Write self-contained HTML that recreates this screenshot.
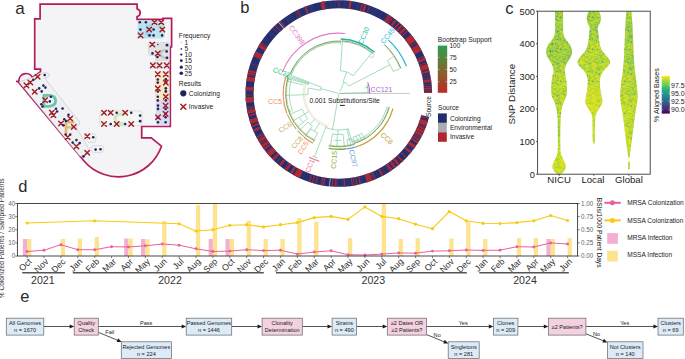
<!DOCTYPE html>
<html><head><meta charset="utf-8"><title>Figure</title>
<style>
html,body{margin:0;padding:0;background:#fff;}
body{width:685px;height:359px;overflow:hidden;}
svg{display:block;font-family:"Liberation Sans", sans-serif;}
</style></head><body>
<svg width="685" height="359" viewBox="0 0 685 359">
<rect width="685" height="359" fill="#fff"/>
<text x="15.3" y="13.8" font-size="17" fill="#2a2a2a" text-anchor="start">a</text>
<path d="M40.1 4.1 L137.1 4.1 L137.1 8.8 C141.2 9.8 141.2 15.6 137.1 16.6 L137.1 19.4 L163 19.4 L163 18.4 L171.6 18.4 L171.6 47 L170.3 47 L170.3 126.5 L141.7 126.5 L141.7 137.8 L151.3 137.8 L161.5 146.2 A45.5 45.5 0 0 1 84 161 L18.9 82.6 L16.2 81.3 L18.9 81.6 A7.2 7.2 0 0 1 32.4 77.4 L40.5 71.6 L40.5 69.1 L34.7 69.1 L34.7 18.8 L40.1 18.8 Z" fill="#f4f4f7" stroke="#b41a5e" stroke-width="1.7" stroke-linejoin="miter"/>
<rect x="137.6" y="20.3" width="27.1" height="18.3" fill="#bfe2ec" stroke="none" stroke-width="0" rx="3"/>
<rect x="145.4" y="24.8" width="6.4" height="11.4" fill="#a6d5ec" stroke="none" stroke-width="0" rx="1"/>
<path d="M150.4 42.5 L167.6 42.5 Q169.5 42.5 169.5 44.4 L169.5 60.5 L155.5 60.5 L155.5 55.5 L150.4 55.5 Q148.4 55.5 148.4 53.5 L148.4 44.5 Q148.4 42.5 150.4 42.5Z" fill="#e3e3e6" stroke="#c9c9cc" stroke-width="0.5"/>
<path d="M153 62.3 L169.3 62.3 L169.3 68 L153 68 Q150.6 68 150.6 65.2 Q150.6 62.3 153 62.3Z" fill="#ececef" stroke="#cfcfd2" stroke-width="0.5"/>
<path d="M167.5 50.2 Q161 49.5 160.5 54 Q161 58.3 167.5 57.8" fill="none" stroke="#c6c6c8" stroke-width="2.2"/>
<rect x="155.6" y="72.4" width="13.7" height="29.4" fill="#fbe7c6" stroke="#e8d8c0" stroke-width="0.4" rx="2"/>
<rect x="156.3" y="100.6" width="13.2" height="24.2" fill="#d9daf0" stroke="#c9c9dc" stroke-width="0.4" rx="2"/>
<rect x="99.8" y="110.9" width="42.2" height="14.8" fill="#f5f6f1" stroke="#c4c4c4" stroke-width="0.5" rx="3"/>
<path d="M124.8 113.9 Q115.2 113.4 115.2 118.7 Q115.2 124 124.8 123.6" fill="none" stroke="#cfe8c2" stroke-width="3.2"/>
<path d="M85.4 134 L94.5 133.8 Q96.4 134 96.2 136.5 L95.8 140.8 Q95.6 142.6 93.5 142.5 L89.5 142.3 Q88.3 142.2 87.6 141.2 L84.4 136.6 Q83.9 134.4 85.4 134Z" fill="#f2f2f4" stroke="#c4c4c6" stroke-width="0.5"/>
<rect x="91.2" y="145.6" width="12.4" height="6.8" fill="#f2f2f4" stroke="#c4c4c6" stroke-width="0.5" rx="2.5"/>
<path d="M19 82 L33 77.2 L39.6 72.9 L47 72.9 Q49.6 73.2 49.2 75.4 Q48.8 77.3 46.6 77.5 L44.6 77.8 L72 112.6 L72.6 113.6 L79.2 121 Q80.4 123 79 124.6 L75.9 127 L89.4 149.8 L87.6 153.4 L84.4 156.6 L79.8 156 Z" fill="#eef0f3" stroke="#b9bcc1" stroke-width="0.55" stroke-linejoin="round"/>
<path d="M42.7 94 L49 94 Q57 94.2 57 100.85 Q57 107.5 49 107.7 L42.7 107.7 Z M45.4 96.7 L45.4 105 L48.8 105 Q54.2 104.8 54.2 100.85 Q54.2 96.9 48.8 96.7 Z" fill="#6cc6a6" fill-rule="evenodd"/>
<path d="M64.6 121 L74.4 121 L74.4 123.4 L67.4 123.4 L67.4 126.2 L73 126.2 L73 128.4 L67.4 128.4 L67.4 133.8 L64.6 133.8 Z" fill="#d9bd78"/>
<circle cx="139.8" cy="22.2" r="1.3" fill="#1d2663"/>
<circle cx="145.9" cy="22.2" r="1.3" fill="#1d2663"/>
<path d="M152.2 19.9L156.8 24.5M152.2 24.5L156.8 19.9" stroke="#a11d23" stroke-width="1.4" stroke-linecap="round"/>
<path d="M158.9 19.9L163.5 24.5M158.9 24.5L163.5 19.9" stroke="#a11d23" stroke-width="1.4" stroke-linecap="round"/>
<circle cx="140.4" cy="29.5" r="1.3" fill="#1d2663"/>
<path d="M146.9 27.2L151.5 31.8M146.9 31.8L151.5 27.2" stroke="#a11d23" stroke-width="1.4" stroke-linecap="round"/>
<circle cx="153.6" cy="29.5" r="1.3" fill="#1d2663"/>
<path d="M160 27.2L164.6 31.8M160 31.8L164.6 27.2" stroke="#a11d23" stroke-width="1.4" stroke-linecap="round"/>
<path d="M138.3 33.1L142.9 37.7M138.3 37.7L142.9 33.1" stroke="#a11d23" stroke-width="1.4" stroke-linecap="round"/>
<circle cx="149.5" cy="35.4" r="1.3" fill="#1d2663"/>
<circle cx="153.6" cy="35.4" r="1.3" fill="#1d2663"/>
<circle cx="162.1" cy="35.4" r="1.3" fill="#1d2663"/>
<path d="M150 42.2L154.6 46.8M150 46.8L154.6 42.2" stroke="#a11d23" stroke-width="1.4" stroke-linecap="round"/>
<circle cx="157.8" cy="44.5" r="0.8" fill="#1d2663"/>
<circle cx="167" cy="45.2" r="1.4" fill="#1d2663"/>
<circle cx="152.5" cy="53.4" r="1.3" fill="#1d2663"/>
<path d="M155.5 51.1L160.1 55.7M155.5 55.7L160.1 51.1" stroke="#a11d23" stroke-width="1.4" stroke-linecap="round"/>
<circle cx="166.7" cy="51.5" r="1.3" fill="#1d2663"/>
<circle cx="157.5" cy="57" r="1.3" fill="#1d2663"/>
<circle cx="167" cy="57.8" r="1.4" fill="#1d2663"/>
<path d="M150.5 63.1L155.1 67.7M150.5 67.7L155.1 63.1" stroke="#a11d23" stroke-width="1.4" stroke-linecap="round"/>
<path d="M157.2 63.1L161.8 67.7M157.2 67.7L161.8 63.1" stroke="#a11d23" stroke-width="1.4" stroke-linecap="round"/>
<path d="M164.4 63.1L169 67.7M164.4 67.7L169 63.1" stroke="#a11d23" stroke-width="1.4" stroke-linecap="round"/>
<path d="M155.5 71.8L160.1 76.4M155.5 76.4L160.1 71.8" stroke="#a11d23" stroke-width="1.4" stroke-linecap="round"/>
<path d="M163.5 71.8L168.1 76.4M163.5 76.4L168.1 71.8" stroke="#a11d23" stroke-width="1.4" stroke-linecap="round"/>
<circle cx="157.8" cy="79.5" r="1.3" fill="#1d2663"/>
<circle cx="165.8" cy="79.5" r="1.4" fill="#1d2663"/>
<circle cx="157.8" cy="82.6" r="1.3" fill="#1d2663"/>
<circle cx="165.8" cy="82.6" r="1.4" fill="#1d2663"/>
<path d="M163.5 80.3L168.1 84.9M163.5 84.9L168.1 80.3" stroke="#a11d23" stroke-width="1.4" stroke-linecap="round"/>
<path d="M155.5 86.1L160.1 90.7M155.5 90.7L160.1 86.1" stroke="#a11d23" stroke-width="1.4" stroke-linecap="round"/>
<circle cx="165.8" cy="88.4" r="1.4" fill="#1d2663"/>
<circle cx="157.8" cy="91.5" r="1.3" fill="#1d2663"/>
<circle cx="165.8" cy="91.5" r="1.4" fill="#1d2663"/>
<circle cx="157.8" cy="96.8" r="1.3" fill="#1d2663"/>
<path d="M163.5 94.5L168.1 99.1M163.5 99.1L168.1 94.5" stroke="#a11d23" stroke-width="1.4" stroke-linecap="round"/>
<circle cx="157.8" cy="100.4" r="1.3" fill="#1d2663"/>
<circle cx="165.8" cy="100.4" r="1.3" fill="#1d2663"/>
<circle cx="158" cy="105.6" r="1.3" fill="#1d2663"/>
<path d="M163.3 103.3L167.9 107.9M163.3 107.9L167.9 103.3" stroke="#a11d23" stroke-width="1.4" stroke-linecap="round"/>
<circle cx="158" cy="108.9" r="1.3" fill="#1d2663"/>
<circle cx="165.6" cy="108.9" r="1.3" fill="#1d2663"/>
<circle cx="165.6" cy="113.9" r="1.4" fill="#1d2663"/>
<path d="M163.3 111.6L167.9 116.2M163.3 116.2L167.9 111.6" stroke="#a11d23" stroke-width="1.4" stroke-linecap="round"/>
<circle cx="158" cy="117.3" r="1.3" fill="#1d2663"/>
<path d="M155.7 115L160.3 119.6M155.7 119.6L160.3 115" stroke="#a11d23" stroke-width="1.4" stroke-linecap="round"/>
<circle cx="165.6" cy="117.3" r="1.3" fill="#1d2663"/>
<circle cx="158" cy="122.3" r="1.3" fill="#1d2663"/>
<circle cx="165.6" cy="122.3" r="1.3" fill="#1d2663"/>
<path d="M101.7 110.4L106.3 115M101.7 115L106.3 110.4" stroke="#a11d23" stroke-width="1.4" stroke-linecap="round"/>
<path d="M108.4 110.4L113 115M108.4 115L113 110.4" stroke="#a11d23" stroke-width="1.4" stroke-linecap="round"/>
<circle cx="116.7" cy="112.7" r="1.3" fill="#1d2663"/>
<path d="M122.9 110.4L127.5 115M122.9 115L127.5 110.4" stroke="#a11d23" stroke-width="1.4" stroke-linecap="round"/>
<circle cx="131.2" cy="112.7" r="1.3" fill="#1d2663"/>
<circle cx="140.1" cy="115.6" r="1.3" fill="#1d2663"/>
<circle cx="140.1" cy="121.2" r="1.4" fill="#1d2663"/>
<path d="M101.7 121.7L106.3 126.3M101.7 126.3L106.3 121.7" stroke="#a11d23" stroke-width="1.4" stroke-linecap="round"/>
<circle cx="110.7" cy="124" r="1.3" fill="#1d2663"/>
<path d="M114.4 121.7L119 126.3M114.4 126.3L119 121.7" stroke="#a11d23" stroke-width="1.4" stroke-linecap="round"/>
<circle cx="125.2" cy="124" r="1.3" fill="#1d2663"/>
<path d="M128.9 121.7L133.5 126.3M128.9 126.3L133.5 121.7" stroke="#a11d23" stroke-width="1.4" stroke-linecap="round"/>
<path d="M85 134L89.6 138.6M85 138.6L89.6 134" stroke="#a11d23" stroke-width="1.4" stroke-linecap="round"/>
<circle cx="93.2" cy="137.2" r="1.3" fill="#1d2663"/>
<circle cx="95.6" cy="149.6" r="1.3" fill="#1d2663"/>
<circle cx="100.5" cy="149.3" r="1.3" fill="#1d2663"/>
<path d="M35.3 74.4L39.9 79M35.3 79L39.9 74.4" stroke="#a11d23" stroke-width="1.4" stroke-linecap="round"/>
<circle cx="44.7" cy="75" r="1.3" fill="#1d2663"/>
<circle cx="33.4" cy="79.7" r="1.3" fill="#1d2663"/>
<path d="M28.1 80.2L32.7 84.8M28.1 84.8L32.7 80.2" stroke="#a11d23" stroke-width="1.4" stroke-linecap="round"/>
<path d="M24.1 83.1L28.7 87.7M24.1 87.7L28.7 83.1" stroke="#a11d23" stroke-width="1.4" stroke-linecap="round"/>
<circle cx="39.2" cy="88.4" r="1.3" fill="#1d2663"/>
<circle cx="43.4" cy="85.6" r="1.3" fill="#1d2663"/>
<circle cx="45.4" cy="87.6" r="1.3" fill="#1d2663"/>
<circle cx="41.7" cy="91.4" r="1.3" fill="#1d2663"/>
<path d="M32.4 89.4L37 94M32.4 94L37 89.4" stroke="#a11d23" stroke-width="1.4" stroke-linecap="round"/>
<circle cx="50.9" cy="96.8" r="1.3" fill="#1d2663"/>
<path d="M42.8 97.8L47.4 102.4M42.8 102.4L47.4 97.8" stroke="#a11d23" stroke-width="1.4" stroke-linecap="round"/>
<circle cx="49.8" cy="101.4" r="1.3" fill="#1d2663"/>
<circle cx="41.4" cy="104.3" r="1.3" fill="#1d2663"/>
<circle cx="42.6" cy="106.5" r="1.3" fill="#1d2663"/>
<circle cx="56" cy="108.8" r="1.3" fill="#1d2663"/>
<circle cx="62.6" cy="108.5" r="1.3" fill="#1d2663"/>
<circle cx="57.1" cy="111.5" r="1.3" fill="#1d2663"/>
<path d="M49.5 110.3L54.1 114.9M49.5 114.9L54.1 110.3" stroke="#a11d23" stroke-width="1.4" stroke-linecap="round"/>
<path d="M51.1 112.9L55.7 117.5M51.1 117.5L55.7 112.9" stroke="#a11d23" stroke-width="1.4" stroke-linecap="round"/>
<circle cx="68.5" cy="114.8" r="1.3" fill="#1d2663"/>
<path d="M67.9 116.2L72.5 120.8M67.9 120.8L72.5 116.2" stroke="#a11d23" stroke-width="1.4" stroke-linecap="round"/>
<circle cx="64.3" cy="119.3" r="1.3" fill="#1d2663"/>
<circle cx="66" cy="121" r="1.3" fill="#1d2663"/>
<path d="M58.7 121.2L63.3 125.8M58.7 125.8L63.3 121.2" stroke="#a11d23" stroke-width="1.4" stroke-linecap="round"/>
<circle cx="63.5" cy="125.2" r="1.3" fill="#1d2663"/>
<path d="M71.5 124.6L76.1 129.2M71.5 129.2L76.1 124.6" stroke="#a11d23" stroke-width="1.4" stroke-linecap="round"/>
<circle cx="65.7" cy="134.6" r="1.3" fill="#1d2663"/>
<circle cx="70.2" cy="134.6" r="1.3" fill="#1d2663"/>
<path d="M65.4 134.8L70 139.4M65.4 139.4L70 134.8" stroke="#a11d23" stroke-width="1.4" stroke-linecap="round"/>
<circle cx="72.7" cy="142.6" r="1.3" fill="#1d2663"/>
<circle cx="76.4" cy="140.1" r="1.3" fill="#1d2663"/>
<circle cx="79.7" cy="143.1" r="1.3" fill="#1d2663"/>
<path d="M74.1 144.1L78.7 148.7M74.1 148.7L78.7 144.1" stroke="#a11d23" stroke-width="1.4" stroke-linecap="round"/>
<path d="M84.9 150.4L89.5 155M84.9 155L89.5 150.4" stroke="#a11d23" stroke-width="1.4" stroke-linecap="round"/>
<circle cx="83.5" cy="156.4" r="1.3" fill="#1d2663"/>
<text x="178.8" y="38" font-size="6.7" fill="#222" text-anchor="start">Frequency</text>
<circle cx="181.3" cy="42.6" r="0.4" fill="#1d2663"/>
<text x="184.5" y="44.9" font-size="6.7" fill="#222" text-anchor="start">1</text>
<circle cx="181.3" cy="48.9" r="0.8" fill="#1d2663"/>
<text x="184.5" y="51.2" font-size="6.7" fill="#222" text-anchor="start">5</text>
<circle cx="181.3" cy="54.6" r="1.15" fill="#1d2663"/>
<text x="184.5" y="56.9" font-size="6.7" fill="#222" text-anchor="start">10</text>
<circle cx="181.3" cy="60.7" r="1.4" fill="#1d2663"/>
<text x="184.5" y="63" font-size="6.7" fill="#222" text-anchor="start">15</text>
<circle cx="181.3" cy="67.2" r="1.6" fill="#1d2663"/>
<text x="184.5" y="69.5" font-size="6.7" fill="#222" text-anchor="start">20</text>
<circle cx="181.3" cy="73.2" r="1.8" fill="#1d2663"/>
<text x="184.5" y="75.5" font-size="6.7" fill="#222" text-anchor="start">25</text>
<text x="178.8" y="85.6" font-size="6.7" fill="#222" text-anchor="start">Results</text>
<circle cx="183.3" cy="93.3" r="3.1" fill="#1d2663"/>
<text x="188.8" y="95.7" font-size="6.7" fill="#222" text-anchor="start">Colonizing</text>
<path d="M180.8 104.2L185.8 109.2M180.8 109.2L185.8 104.2" stroke="#a11d23" stroke-width="1.5" stroke-linecap="round"/>
<text x="188.8" y="109.1" font-size="6.7" fill="#222" text-anchor="start">Invasive</text>
<text x="240.3" y="13.4" font-size="16.5" fill="#2a2a2a" text-anchor="start">b</text>
<path d="M429.09 117.02A93.3 93.3 0 1 1 432.1 92.85L424 92.91A85.2 85.2 0 1 0 421.25 114.98Z" fill="#232c6c"/>
<path d="M428.88 117.81A93.3 93.3 0 0 1 428.6 118.83L420.8 116.63A85.2 85.2 0 0 0 421.06 115.69Z" fill="#b0262e"/>
<path d="M427.93 121.09A93.3 93.3 0 0 1 426.22 126.1L418.63 123.27A85.2 85.2 0 0 0 420.19 118.69Z" fill="#b0262e"/>
<path d="M425.9 126.94A93.3 93.3 0 0 1 425.52 127.92L417.99 124.93A85.2 85.2 0 0 0 418.34 124.03Z" fill="#b0262e"/>
<path d="M425.31 128.45A93.3 93.3 0 0 1 424.71 129.88L417.26 126.72A85.2 85.2 0 0 0 417.8 125.42Z" fill="#b0262e"/>
<path d="M424.43 130.55A93.3 93.3 0 0 1 423.05 133.59L415.73 130.11A85.2 85.2 0 0 0 416.99 127.34Z" fill="#b0262e"/>
<path d="M422.87 133.96A93.3 93.3 0 0 1 421.67 136.36L414.48 132.64A85.2 85.2 0 0 0 415.57 130.45Z" fill="#b0262e"/>
<path d="M421.48 136.73A93.3 93.3 0 0 1 421.22 137.23L414.06 133.43A85.2 85.2 0 0 0 414.3 132.97Z" fill="#b0262e"/>
<path d="M420.87 137.88A93.3 93.3 0 0 1 420.36 138.8L413.28 134.87A85.2 85.2 0 0 0 413.75 134.02Z" fill="#b0262e"/>
<path d="M419.92 139.58A93.3 93.3 0 0 1 419.15 140.92L412.17 136.81A85.2 85.2 0 0 0 412.88 135.58Z" fill="#b0262e"/>
<path d="M418.52 141.97A93.3 93.3 0 0 1 417.44 143.7L410.62 139.34A85.2 85.2 0 0 0 411.6 137.76Z" fill="#b0262e"/>
<path d="M416.06 145.81A93.3 93.3 0 0 1 414.14 148.54L407.6 143.76A85.2 85.2 0 0 0 409.35 141.27Z" fill="#b0262e"/>
<path d="M411.92 151.45A93.3 93.3 0 0 1 410.32 153.41L404.11 148.21A85.2 85.2 0 0 0 405.57 146.42Z" fill="#b0262e"/>
<path d="M406.81 157.37A93.3 93.3 0 0 1 406.2 158.02L400.35 152.42A85.2 85.2 0 0 0 400.91 151.82Z" fill="#b0262e"/>
<path d="M403.49 160.73A93.3 93.3 0 0 1 402.25 161.9L396.74 155.96A85.2 85.2 0 0 0 397.88 154.89Z" fill="#b0262e"/>
<path d="M400.01 163.91A93.3 93.3 0 0 1 397.83 165.75L392.71 159.48A85.2 85.2 0 0 0 394.7 157.8Z" fill="#b0262e"/>
<path d="M396.37 166.92A93.3 93.3 0 0 1 394.88 168.06L390.02 161.59A85.2 85.2 0 0 0 391.37 160.55Z" fill="#b0262e"/>
<path d="M394.56 168.31A93.3 93.3 0 0 1 393.97 168.74L389.18 162.21A85.2 85.2 0 0 0 389.72 161.81Z" fill="#b0262e"/>
<path d="M392.45 169.83A93.3 93.3 0 0 1 390.91 170.89L386.38 164.18A85.2 85.2 0 0 0 387.79 163.21Z" fill="#b0262e"/>
<path d="M390.43 171.21A93.3 93.3 0 0 1 389.68 171.7L385.27 164.91A85.2 85.2 0 0 0 385.95 164.46Z" fill="#b0262e"/>
<path d="M383.6 175.34A93.3 93.3 0 0 1 381.95 176.22L378.21 169.04A85.2 85.2 0 0 0 379.72 168.23Z" fill="#b0262e"/>
<path d="M375.55 179.26A93.3 93.3 0 0 1 374.73 179.6L371.61 172.13A85.2 85.2 0 0 0 372.36 171.81Z" fill="#b0262e"/>
<path d="M373.75 180.01A93.3 93.3 0 0 1 373.07 180.28L370.1 172.74A85.2 85.2 0 0 0 370.72 172.5Z" fill="#b0262e"/>
<path d="M372.24 180.6A93.3 93.3 0 0 1 367.09 182.41L364.63 174.69A85.2 85.2 0 0 0 369.33 173.04Z" fill="#b0262e"/>
<path d="M361.06 184.11A93.3 93.3 0 0 1 359.87 184.39L358.04 176.5A85.2 85.2 0 0 0 359.12 176.24Z" fill="#b0262e"/>
<path d="M357.72 184.86A93.3 93.3 0 0 1 356.84 185.04L355.28 177.09A85.2 85.2 0 0 0 356.08 176.93Z" fill="#b0262e"/>
<path d="M355 185.38A93.3 93.3 0 0 1 354.12 185.53L352.79 177.54A85.2 85.2 0 0 0 353.59 177.41Z" fill="#b0262e"/>
<path d="M353.07 185.7A93.3 93.3 0 0 1 352.03 185.86L350.88 177.84A85.2 85.2 0 0 0 351.83 177.7Z" fill="#b0262e"/>
<path d="M345.31 186.57A93.3 93.3 0 0 1 344.25 186.64L343.78 178.55A85.2 85.2 0 0 0 344.74 178.49Z" fill="#b0262e"/>
<path d="M336.52 186.77A93.3 93.3 0 0 1 334.81 186.71L335.16 178.62A85.2 85.2 0 0 0 336.72 178.67Z" fill="#b0262e"/>
<path d="M332.78 186.61A93.3 93.3 0 0 1 331.56 186.52L332.19 178.44A85.2 85.2 0 0 0 333.3 178.52Z" fill="#b0262e"/>
<path d="M329.86 186.37A93.3 93.3 0 0 1 329.13 186.3L329.97 178.24A85.2 85.2 0 0 0 330.63 178.31Z" fill="#c9ccd2"/>
<path d="M324.04 185.63A93.3 93.3 0 0 1 322.68 185.4L324.08 177.42A85.2 85.2 0 0 0 325.32 177.63Z" fill="#b0262e"/>
<path d="M321.96 185.27A93.3 93.3 0 0 1 320.92 185.07L322.47 177.12A85.2 85.2 0 0 0 323.42 177.3Z" fill="#b0262e"/>
<path d="M316.07 183.99A93.3 93.3 0 0 1 314.89 183.68L316.96 175.85A85.2 85.2 0 0 0 318.04 176.13Z" fill="#b0262e"/>
<path d="M312.77 183.1A93.3 93.3 0 0 1 311.76 182.79L314.1 175.04A85.2 85.2 0 0 0 315.03 175.32Z" fill="#b0262e"/>
<path d="M309.66 182.13A93.3 93.3 0 0 1 308.81 181.85L311.41 174.18A85.2 85.2 0 0 0 312.19 174.44Z" fill="#b0262e"/>
<path d="M299.67 178.2A93.3 93.3 0 0 1 293.78 175.22L297.69 168.13A85.2 85.2 0 0 0 303.06 170.84Z" fill="#b0262e"/>
<path d="M292.15 174.3A93.3 93.3 0 0 1 290.12 173.09L294.35 166.18A85.2 85.2 0 0 0 296.2 167.29Z" fill="#b0262e"/>
<path d="M286.9 171.03A93.3 93.3 0 0 1 284.95 169.69L289.63 163.08A85.2 85.2 0 0 0 291.4 164.3Z" fill="#b0262e"/>
<path d="M284.36 169.27A93.3 93.3 0 0 1 283.89 168.93L288.66 162.38A85.2 85.2 0 0 0 289.08 162.69Z" fill="#b0262e"/>
<path d="M280.46 166.31A93.3 93.3 0 0 1 278.77 164.92L283.98 158.72A85.2 85.2 0 0 0 285.53 159.99Z" fill="#b0262e"/>
<path d="M276.37 162.84A93.3 93.3 0 0 1 275.95 162.45L281.4 156.47A85.2 85.2 0 0 0 281.79 156.82Z" fill="#b0262e"/>
<path d="M273.75 160.39A93.3 93.3 0 0 1 271.97 158.6L277.77 152.95A85.2 85.2 0 0 0 279.4 154.58Z" fill="#b0262e"/>
<path d="M270.12 156.65A93.3 93.3 0 0 1 266.86 152.91L273.1 147.75A85.2 85.2 0 0 0 276.08 151.17Z" fill="#b0262e"/>
<path d="M266.6 152.59A93.3 93.3 0 0 1 265.93 151.77L272.26 146.71A85.2 85.2 0 0 0 272.87 147.46Z" fill="#b0262e"/>
<path d="M264.48 149.91A93.3 93.3 0 0 1 263.37 148.41L269.92 143.64A85.2 85.2 0 0 0 270.94 145.01Z" fill="#b0262e"/>
<path d="M262.84 147.68A93.3 93.3 0 0 1 261.04 145.06L267.79 140.59A85.2 85.2 0 0 0 269.44 142.98Z" fill="#b0262e"/>
<path d="M260.38 144.04A93.3 93.3 0 0 1 259.81 143.15L266.66 138.84A85.2 85.2 0 0 0 267.18 139.65Z" fill="#b0262e"/>
<path d="M259.42 142.53A93.3 93.3 0 0 1 257.88 139.94L264.9 135.91A85.2 85.2 0 0 0 266.31 138.27Z" fill="#b0262e"/>
<path d="M257.28 138.88A93.3 93.3 0 0 1 257 138.38L264.1 134.48A85.2 85.2 0 0 0 264.35 134.94Z" fill="#b0262e"/>
<path d="M256.65 137.73A93.3 93.3 0 0 1 256.08 136.65L263.26 132.91A85.2 85.2 0 0 0 263.78 133.89Z" fill="#b0262e"/>
<path d="M253.77 131.89A93.3 93.3 0 0 1 252.82 129.73L260.29 126.58A85.2 85.2 0 0 0 261.15 128.56Z" fill="#b0262e"/>
<path d="M251.81 127.24A93.3 93.3 0 0 1 251.21 125.64L258.81 122.85A85.2 85.2 0 0 0 259.37 124.31Z" fill="#b0262e"/>
<path d="M250.58 123.88A93.3 93.3 0 0 1 249.23 119.61L257 117.34A85.2 85.2 0 0 0 258.24 121.24Z" fill="#b0262e"/>
<path d="M248.31 116.23A93.3 93.3 0 0 1 247.98 114.88L255.87 113.03A85.2 85.2 0 0 0 256.17 114.26Z" fill="#b0262e"/>
<path d="M247.71 113.69A93.3 93.3 0 0 1 247.02 110.26L254.99 108.81A85.2 85.2 0 0 0 255.62 111.94Z" fill="#b0262e"/>
<path d="M246.75 108.74A93.3 93.3 0 0 1 246.61 107.85L254.61 106.61A85.2 85.2 0 0 0 254.74 107.42Z" fill="#b0262e"/>
<path d="M245.96 102.77A93.3 93.3 0 0 1 245.57 97.16L253.67 96.84A85.2 85.2 0 0 0 254.02 101.96Z" fill="#b0262e"/>
<path d="M245.52 95.62A93.3 93.3 0 0 1 245.51 95.05L253.61 94.91A85.2 85.2 0 0 0 253.62 95.43Z" fill="#b0262e"/>
<path d="M245.55 90.41A93.3 93.3 0 0 1 245.73 86.91L253.81 87.48A85.2 85.2 0 0 0 253.65 90.68Z" fill="#b0262e"/>
<path d="M246.34 81A93.3 93.3 0 0 1 247.08 76.42L255.04 77.9A85.2 85.2 0 0 0 254.37 82.08Z" fill="#b0262e"/>
<path d="M247.31 75.22A93.3 93.3 0 0 1 247.46 74.5L255.39 76.15A85.2 85.2 0 0 0 255.25 76.81Z" fill="#b0262e"/>
<path d="M247.54 74.1A93.3 93.3 0 0 1 247.87 72.59L255.77 74.41A85.2 85.2 0 0 0 255.46 75.79Z" fill="#b0262e"/>
<path d="M248 72.04A93.3 93.3 0 0 1 248.57 69.75L256.41 71.81A85.2 85.2 0 0 0 255.89 73.9Z" fill="#b0262e"/>
<path d="M250.43 63.59A93.3 93.3 0 0 1 250.61 63.05L258.27 65.69A85.2 85.2 0 0 0 258.1 66.18Z" fill="#b0262e"/>
<path d="M253.37 56A93.3 93.3 0 0 1 255.63 51.22L262.85 54.89A85.2 85.2 0 0 0 260.79 59.25Z" fill="#b0262e"/>
<path d="M258 46.85A93.3 93.3 0 0 1 259.81 43.85L266.66 48.16A85.2 85.2 0 0 0 265.01 50.9Z" fill="#b0262e"/>
<path d="M260.29 43.1A93.3 93.3 0 0 1 260.77 42.34L267.55 46.79A85.2 85.2 0 0 0 267.1 47.47Z" fill="#b0262e"/>
<path d="M272.71 27.64A93.3 93.3 0 0 1 273.12 27.24L278.82 32.99A85.2 85.2 0 0 0 278.45 33.36Z" fill="#b0262e"/>
<path d="M274.46 25.93A93.3 93.3 0 0 1 275.11 25.32L280.64 31.24A85.2 85.2 0 0 0 280.04 31.8Z" fill="#b0262e"/>
<path d="M278.21 22.55A93.3 93.3 0 0 1 278.89 21.98L284.09 28.19A85.2 85.2 0 0 0 283.47 28.71Z" fill="#c9ccd2"/>
<path d="M279.33 21.61A93.3 93.3 0 0 1 280.53 20.63L285.59 26.96A85.2 85.2 0 0 0 284.49 27.85Z" fill="#b0262e"/>
<path d="M294.85 11.2A93.3 93.3 0 0 1 295.36 10.93L299.13 18.1A85.2 85.2 0 0 0 298.67 18.34Z" fill="#b0262e"/>
<path d="M296.88 10.15A93.3 93.3 0 0 1 297.83 9.68L301.38 16.96A85.2 85.2 0 0 0 300.52 17.38Z" fill="#b0262e"/>
<path d="M304.3 6.81A93.3 93.3 0 0 1 306.05 6.14L308.89 13.72A85.2 85.2 0 0 0 307.3 14.34Z" fill="#b0262e"/>
<path d="M320.52 2.01A93.3 93.3 0 0 1 324.12 1.36L325.4 9.36A85.2 85.2 0 0 0 322.11 9.95Z" fill="#b0262e"/>
<path d="M337.99 0.2A93.3 93.3 0 0 1 338.56 0.2L338.58 8.3A85.2 85.2 0 0 0 338.06 8.3Z" fill="#b0262e"/>
<path d="M349.36 0.8A93.3 93.3 0 0 1 351.7 1.1L350.58 9.12A85.2 85.2 0 0 0 348.44 8.85Z" fill="#b0262e"/>
<path d="M362 3.13A93.3 93.3 0 0 1 363.5 3.53L361.35 11.34A85.2 85.2 0 0 0 359.99 10.98Z" fill="#b0262e"/>
<path d="M364.52 3.81A93.3 93.3 0 0 1 366.62 4.45L364.21 12.18A85.2 85.2 0 0 0 362.28 11.6Z" fill="#b0262e"/>
<path d="M369.48 5.39A93.3 93.3 0 0 1 370.02 5.58L367.31 13.21A85.2 85.2 0 0 0 366.82 13.04Z" fill="#b0262e"/>
<path d="M387.96 14.21A93.3 93.3 0 0 1 388.59 14.59L384.26 21.44A85.2 85.2 0 0 0 383.7 21.09Z" fill="#b0262e"/>
<path d="M389.07 14.9A93.3 93.3 0 0 1 391.58 16.56L387 23.24A85.2 85.2 0 0 0 384.7 21.72Z" fill="#b0262e"/>
<path d="M392.31 17.07A93.3 93.3 0 0 1 393.18 17.69L388.46 24.27A85.2 85.2 0 0 0 387.67 23.71Z" fill="#b0262e"/>
<path d="M395.08 19.09A93.3 93.3 0 0 1 396.94 20.53L391.9 26.87A85.2 85.2 0 0 0 390.19 25.55Z" fill="#b0262e"/>
<path d="M398.9 22.13A93.3 93.3 0 0 1 400.19 23.25L394.86 29.35A85.2 85.2 0 0 0 393.68 28.33Z" fill="#b0262e"/>
<path d="M401.35 24.27A93.3 93.3 0 0 1 402.96 25.77L397.39 31.65A85.2 85.2 0 0 0 395.92 30.28Z" fill="#b0262e"/>
<path d="M404.19 26.95A93.3 93.3 0 0 1 406.31 29.1L400.45 34.69A85.2 85.2 0 0 0 398.52 32.73Z" fill="#b0262e"/>
<path d="M407.37 30.23A93.3 93.3 0 0 1 408.19 31.13L402.17 36.55A85.2 85.2 0 0 0 401.41 35.72Z" fill="#b0262e"/>
<path d="M411 34.41A93.3 93.3 0 0 1 415.74 40.72L409.06 45.3A85.2 85.2 0 0 0 404.73 39.54Z" fill="#b0262e"/>
<path d="M416.33 41.6A93.3 93.3 0 0 1 416.65 42.07L409.89 46.54A85.2 85.2 0 0 0 409.6 46.1Z" fill="#b0262e"/>
<path d="M417.4 43.23A93.3 93.3 0 0 1 417.71 43.71L410.86 48.04A85.2 85.2 0 0 0 410.58 47.6Z" fill="#b0262e"/>
<path d="M418.18 44.47A93.3 93.3 0 0 1 421.75 50.78L414.54 54.49A85.2 85.2 0 0 0 411.29 48.73Z" fill="#b0262e"/>
<path d="M423.97 55.4A93.3 93.3 0 0 1 424.39 56.37L416.96 59.59A85.2 85.2 0 0 0 416.57 58.71Z" fill="#b0262e"/>
<path d="M424.75 57.19A93.3 93.3 0 0 1 425.87 59.99L418.31 62.9A85.2 85.2 0 0 0 417.28 60.35Z" fill="#b0262e"/>
<path d="M426.75 62.36A93.3 93.3 0 0 1 426.94 62.89L419.29 65.55A85.2 85.2 0 0 0 419.11 65.06Z" fill="#b0262e"/>
<path d="M427.23 63.74A93.3 93.3 0 0 1 428.86 69.12L421.04 71.23A85.2 85.2 0 0 0 419.55 66.32Z" fill="#b0262e"/>
<path d="M429.09 69.98A93.3 93.3 0 0 1 429.58 71.96L421.7 73.83A85.2 85.2 0 0 0 421.25 72.02Z" fill="#b0262e"/>
<path d="M430.23 74.9A93.3 93.3 0 0 1 430.34 75.46L422.39 77.02A85.2 85.2 0 0 0 422.29 76.51Z" fill="#b0262e"/>
<path d="M430.68 77.3A93.3 93.3 0 0 1 430.78 77.86L422.79 79.22A85.2 85.2 0 0 0 422.71 78.71Z" fill="#b0262e"/>
<path d="M430.98 79.07A93.3 93.3 0 0 1 431.35 81.73L423.32 82.75A85.2 85.2 0 0 0 422.97 80.32Z" fill="#b0262e"/>
<path d="M431.57 83.59A93.3 93.3 0 0 1 431.63 84.15L423.57 84.96A85.2 85.2 0 0 0 423.52 84.45Z" fill="#b0262e"/>
<path d="M431.79 85.86A93.3 93.3 0 0 1 431.86 86.75L423.78 87.33A85.2 85.2 0 0 0 423.71 86.52Z" fill="#b0262e"/>
<path d="M431.91 87.48A93.3 93.3 0 0 1 431.99 89.02L423.9 89.41A85.2 85.2 0 0 0 423.82 88Z" fill="#b0262e"/>
<path d="M432.02 89.59A93.3 93.3 0 0 1 432.05 90.49L423.96 90.75A85.2 85.2 0 0 0 423.93 89.93Z" fill="#b0262e"/>
<path d="M432.09 91.87A93.3 93.3 0 0 1 432.1 92.93L424 92.98A85.2 85.2 0 0 0 423.99 92.01Z" fill="#b0262e"/>
<path d="M421.25 114.98L429.09 117.02M420.62 117.27L428.4 119.53M419.6 120.53L427.28 123.1M418.81 122.78L426.42 125.56M417.57 125.97L425.06 129.05M416.2 129.1L423.56 132.49M415.18 131.25L422.44 134.84M414.71 132.18L421.93 135.86M413.96 133.63L421.1 137.45M412.81 135.71L419.84 139.73M411.98 137.13L418.94 141.27M411.13 138.52L418.01 142.8M409.27 141.39L415.97 145.94M407.29 144.18L413.8 149M406.66 145.01L413.12 149.91M405.2 146.89L411.51 151.96M404.16 148.15L410.38 153.35M403.1 149.4L409.21 154.71M401.52 151.17L407.48 156.65M399.88 152.9L405.69 158.55M397.45 155.3L403.02 161.18M395.7 156.92L401.11 162.94M393.91 158.48L399.15 164.66M392.65 159.53L397.77 165.8M390.78 161L395.73 167.42M389.96 161.63L394.82 168.11M389.12 162.25L393.9 168.79M387.79 163.21L392.45 169.83M386.94 163.8L391.51 170.48M384.95 165.12L389.34 171.92M382.04 166.91L386.15 173.89M381.14 167.43L385.17 174.46M378.14 169.07L381.88 176.26M375.08 170.59L378.53 177.92M372.91 171.57L376.15 179M371.95 171.98L375.11 179.45M370.44 172.61L373.45 180.13M368.92 173.2L371.78 180.78M365.69 174.34L368.25 182.03M363.43 175.06L365.77 182.82M361.14 175.72L363.26 183.54M359.56 176.13L361.53 183.99M357.97 176.52L359.79 184.41M355.64 177.02L357.24 184.96M354.62 177.22L356.12 185.18M351.25 177.79L352.43 185.8M348.89 178.1L349.85 186.14M347.26 178.28L348.07 186.34M343.85 178.55L344.33 186.64M342.81 178.61L343.2 186.7M341.77 178.65L342.06 186.74M338.35 178.7L338.31 186.8M337.31 178.69L337.17 186.79M333.9 178.56L333.43 186.65M330.49 178.29L329.7 186.35M328.86 178.12L327.91 186.16M325.47 177.65L324.2 185.65M323.13 177.25L321.64 185.21M322.11 177.05L320.52 184.99M318.77 176.31L316.86 184.18M315.46 175.44L313.24 183.23M312.19 174.44L309.66 182.13M309.94 173.66L307.2 181.28M307.71 172.83L304.76 180.37M305.51 171.93L302.34 179.38M303.33 170.97L299.96 178.33M300.25 169.48L296.59 176.7M297.23 167.87L293.28 174.94M295.17 166.68L291.03 173.64M294.28 166.14L290.05 173.05M291.4 164.3L286.9 171.03M288.6 162.34L283.83 168.89M285.88 160.27L280.85 166.62M284.03 158.77L278.83 164.97M282.79 157.7L277.47 163.81M281.02 156.11L275.53 162.07M279.83 154.99L274.22 160.84M277.41 152.58L271.57 158.19M275.09 150.07L269.03 155.44M274.01 148.83L267.85 154.09M273.34 148.04L267.12 153.22M271.84 146.19L265.48 151.2M270.4 144.3L263.9 149.13M269.44 142.98L262.84 147.68M268.08 141.02L261.36 145.54M267.18 139.65L260.38 144.04M265.39 136.74L258.41 140.85M264.87 135.84L257.84 139.87M264.35 134.94L257.28 138.88M263.85 134.02L256.73 137.88M262.75 131.91L255.52 135.57M261.27 128.83L253.9 132.19M260.32 126.65L252.85 129.81M259.42 124.45L251.87 127.39M258.24 121.24L250.58 123.88M257.19 117.98L249.44 120.31M256.28 114.69L248.43 116.7M255.49 111.36L247.57 113.06M255.03 109.03L247.06 110.5M254.84 108L246.86 109.38M254.47 105.65L246.45 106.81M254.05 102.26L245.99 103.09M253.95 101.22L245.88 101.96M253.86 100.18L245.79 100.82M253.75 98.55L245.66 99.03M253.69 97.51L245.6 97.9M253.6 94.09L245.5 94.15M253.62 91.72L245.52 91.55M253.76 88.3L245.67 87.8M253.87 86.67L245.8 86.02M254.02 85.04L245.96 84.23M254.43 81.64L246.41 80.52M254.97 78.27L247 76.82M255.65 74.91L247.75 73.15M256.46 71.59L248.64 69.51M257.11 69.3L249.34 67M257.41 68.31L249.67 65.91M257.91 66.75L250.22 64.2M258.69 64.5L251.07 61.74M259.53 62.27L251.99 59.31M260.43 60.07L252.98 56.89M260.85 59.12L253.43 55.85M261.84 56.95L254.52 53.48M262.55 55.48L255.3 51.87M263.02 54.56L255.82 50.85M264.14 52.45L257.04 48.55M265.31 50.39L258.33 46.29M267.1 47.47L260.29 43.1M268 46.1L261.27 41.6M269.35 44.15L262.75 39.45M270.31 42.82L263.8 38M271.3 41.52L264.88 36.57M273.44 38.85L267.22 33.65M274.5 37.6L268.39 32.29M275.19 36.82L269.14 31.43M275.88 36.05L269.9 30.59M277.51 34.32L271.69 28.69M278.24 33.57L272.48 27.87M280.69 31.19L275.17 25.26M281.46 30.48L276.01 24.49M282.23 29.79L276.86 23.73M284.03 28.23L278.83 22.03M284.84 27.57L279.71 21.3M286.7 26.09L281.74 19.68M289.45 24.05L284.75 17.45M290.3 23.45L285.69 16.79M291.16 22.87L286.63 16.15M292.02 22.29L287.58 15.52M293.4 21.4L289.08 14.55M294.79 20.55L290.61 13.61M297.75 18.84L293.85 11.74M299.86 17.72L296.15 10.52M301.32 16.99L297.75 9.71M302.79 16.28L299.37 8.94M305.92 14.9L302.79 7.43M306.88 14.5L303.85 6.99M308.41 13.91L305.52 6.34M309.94 13.34L307.2 5.72M310.92 12.99L308.27 5.34M311.91 12.66L309.35 4.97M312.9 12.33L310.43 4.62M313.89 12.02L311.52 4.28M315.46 11.56L313.24 3.77M318.77 10.69L316.86 2.82M322.11 9.95L320.52 2.01M325.47 9.35L324.2 1.35M326.5 9.19L325.33 1.18M327.53 9.05L326.46 1.02M329.89 8.77L329.05 0.71M331.52 8.61L330.83 0.54M333.15 8.49L332.62 0.41M335.53 8.36L335.22 0.27M337.91 8.3L337.82 0.21M339.54 8.3L339.61 0.2M340.58 8.32L340.75 0.22M342.96 8.4L343.36 0.31M344 8.46L344.5 0.37M345.04 8.53L345.63 0.45M347.41 8.74L348.23 0.68M349.04 8.92L350.01 0.88M352.42 9.4L353.72 1.4M355.79 10.01L357.4 2.07M356.8 10.22L358.52 2.31M357.82 10.45L359.63 2.55M359.41 10.83L361.37 2.97M362.71 11.72L364.99 3.95M363.71 12.02L366.08 4.28M366.96 13.09L369.64 5.44M367.94 13.44L370.71 5.83M369.47 14.01L372.39 6.46M370.99 14.62L374.05 7.12M372.5 15.25L375.7 7.81M373.45 15.67L376.75 8.27M374.94 16.35L378.38 9.01M376.42 17.05L379.99 9.79M378.54 18.13L382.31 10.97M379.45 18.62L383.32 11.51M382.43 20.32L386.57 13.36M384.45 21.56L388.79 14.72M387.3 23.45L391.91 16.79M389.24 24.83L394.03 18.31M391.95 26.91L397.01 20.58M392.76 27.57L397.89 21.3M394.02 28.62L399.27 22.45M396.58 30.89L402.07 24.93M397.77 32.01L403.38 26.16M400.19 34.42L406.03 28.81M401.82 36.16L407.81 30.71M404.07 38.73L410.27 33.53M406.21 41.4L412.62 36.44M406.84 42.23L413.31 37.35M407.82 43.54L414.38 38.79M408.42 44.39L415.04 39.72M409.35 45.73L416.06 41.19M410.25 47.1L417.05 42.69M411.52 49.11L418.44 44.89M413.25 52.06L420.32 48.12M414.03 53.5L421.18 49.7M414.51 54.42L421.71 50.71M415.57 56.55L422.87 53.04M416.99 59.66L424.43 56.45M417.91 61.86L425.43 58.85M418.29 62.83L425.84 59.91M419.11 65.06L426.75 62.36M420.19 68.31L427.93 65.91M420.86 70.59L428.66 68.41M421.71 73.9L429.6 72.04M421.95 74.91L429.85 73.15M422.17 75.93L430.09 74.26M422.81 79.29L430.79 77.94M423.17 81.64L431.19 80.52M423.38 83.26L431.42 82.29M423.73 86.67L431.8 86.02M423.84 88.3L431.93 87.8M423.98 91.72L432.08 91.55" stroke="#7a80a8" stroke-width="0.25" opacity="0.5"/>
<line x1="338.8" y1="93.4" x2="409.8" y2="93.4" stroke="#b8b8b8" stroke-width="0.8"/>
<line x1="339.8" y1="93.47" x2="368.28" y2="92.47" stroke="#5cc08a" stroke-width="0.55"/>
<line x1="364.23" y1="88.09" x2="368.14" y2="87.26" stroke="#5cc08a" stroke-width="0.55"/>
<path d="M367.01 84.88A29.5 29.5 0 0 1 368.3 92.99" fill="none" stroke="#6a9a40" stroke-width="0.6"/>
<path d="M367.74 82.39A31 31 0 0 1 369.8 93.5" fill="none" stroke="#9a55c0" stroke-width="0.9"/>
<line x1="339.86" y1="91.23" x2="344.17" y2="81.99" stroke="#5cc08a" stroke-width="0.55"/>
<path d="M343.14 81.57A12.7 12.7 0 0 1 348.94 85.86" fill="none" stroke="#5cc08a" stroke-width="0.55"/>
<line x1="343.14" y1="81.57" x2="346.67" y2="71.89" stroke="#5cc08a" stroke-width="0.55"/>
<path d="M340.4 70.56A23 23 0 0 1 353.27 75.63" fill="none" stroke="#5cc08a" stroke-width="0.55"/>
<line x1="340.4" y1="70.56" x2="342.47" y2="41.03" stroke="#5cc08a" stroke-width="0.55"/>
<line x1="353.27" y1="75.63" x2="371.08" y2="53.63" stroke="#5cc08a" stroke-width="0.55"/>
<path d="M369.32 55.81A48.5 48.5 0 0 1 371.88 58.03" fill="none" stroke="#5cc08a" stroke-width="0.55"/>
<line x1="371.88" y1="58.03" x2="374.6" y2="55.1" stroke="#5cc08a" stroke-width="0.55"/>
<line x1="348.6" y1="86.2" x2="390.2" y2="64.6" stroke="#5cc08a" stroke-width="0.55"/>
<path d="M387.46 60.68A58.7 58.7 0 0 1 393.23 71.51" fill="none" stroke="#5cc08a" stroke-width="0.55"/>
<line x1="387.46" y1="60.68" x2="393.1" y2="56.87" stroke="#5cc08a" stroke-width="0.55"/>
<line x1="393.23" y1="71.51" x2="399.53" y2="68.96" stroke="#5cc08a" stroke-width="0.55"/>
<line x1="338.32" y1="93.37" x2="320.93" y2="88.71" stroke="#5cc08a" stroke-width="0.55"/>
<path d="M320.58 90.29A18.5 18.5 0 0 1 321.42 87.17" fill="none" stroke="#5cc08a" stroke-width="0.55"/>
<line x1="321.42" y1="87.17" x2="308.73" y2="82.56" stroke="#5cc08a" stroke-width="0.55"/>
<line x1="320.58" y1="90.29" x2="308.27" y2="88.12" stroke="#5cc08a" stroke-width="0.55"/>
<path d="M307.82 94.58A31 31 0 0 1 308.27 88.12" fill="none" stroke="#5cc08a" stroke-width="0.55"/>
<line x1="307.82" y1="94.58" x2="304.62" y2="94.69" stroke="#5cc08a" stroke-width="0.55"/>
<path d="M328.23 126.03A34.2 34.2 0 0 1 305.92 84.07" fill="none" stroke="#d9d2a6" stroke-width="0.55"/>
<path d="M327.8 127.36A35.6 35.6 0 0 1 304.26 84.89" fill="none" stroke="#d9d2a6" stroke-width="0.55"/>
<path d="M348.25 128.76A36.5 36.5 0 0 1 326.32 127.8" fill="none" stroke="#5cc08a" stroke-width="0.55"/>
<line x1="338.71" y1="93.99" x2="332.46" y2="129.45" stroke="#5cc08a" stroke-width="0.55"/>
<path d="M308.04 84.68A32 32 0 0 1 308.93 82.03" fill="none" stroke="#5cc08a" stroke-width="0.55"/>
<line x1="308.12" y1="84.41" x2="284.15" y2="77.31" stroke="#5cc08a" stroke-width="0.55"/>
<line x1="308.37" y1="83.61" x2="284.59" y2="75.89" stroke="#5cc08a" stroke-width="0.55"/>
<line x1="308.64" y1="82.82" x2="285.07" y2="74.47" stroke="#5cc08a" stroke-width="0.55"/>
<line x1="308.93" y1="82.03" x2="291.19" y2="75.22" stroke="#5cc08a" stroke-width="0.55"/>
<line x1="303.31" y1="84.98" x2="286.29" y2="80.89" stroke="#5cc08a" stroke-width="0.55"/>
<path d="M291.19 75.22A51 51 0 0 1 340.58 42.53" fill="none" stroke="#5cc08a" stroke-width="0.55"/>
<line x1="340.51" y1="44.53" x2="340.63" y2="41.03" stroke="#5cc08a" stroke-width="0.55"/>
<line x1="303.82" y1="94.72" x2="289.33" y2="95.23" stroke="#5cc08a" stroke-width="0.55"/>
<path d="M292.29 110.43A49.5 49.5 0 0 1 291.22 79.86" fill="none" stroke="#5cc08a" stroke-width="0.55"/>
<line x1="292.29" y1="110.43" x2="289" y2="111.63" stroke="#5cc08a" stroke-width="0.55"/>
<line x1="289.33" y1="95.23" x2="285.83" y2="95.35" stroke="#5cc08a" stroke-width="0.55"/>
<line x1="291.22" y1="79.86" x2="287.85" y2="78.89" stroke="#5cc08a" stroke-width="0.55"/>
<line x1="308.8" y1="111.53" x2="304.51" y2="114.1" stroke="#5cc08a" stroke-width="0.55"/>
<path d="M307.71 118.67A40 40 0 0 1 301.98 109.13" fill="none" stroke="#5cc08a" stroke-width="0.55"/>
<line x1="307.71" y1="118.67" x2="298" y2="126.54" stroke="#5cc08a" stroke-width="0.55"/>
<line x1="304.51" y1="114.1" x2="293.8" y2="120.54" stroke="#5cc08a" stroke-width="0.55"/>
<line x1="301.98" y1="109.13" x2="290.47" y2="114.01" stroke="#5cc08a" stroke-width="0.55"/>
<path d="M303.05 122.45A46 46 0 0 1 299.37 117.19" fill="none" stroke="#5cc08a" stroke-width="0.55"/>
<line x1="314.93" y1="119.1" x2="310.16" y2="124.22" stroke="#5cc08a" stroke-width="0.55"/>
<path d="M312.37 126.14A42 42 0 0 1 308.08 122.14" fill="none" stroke="#5cc08a" stroke-width="0.55"/>
<line x1="312.37" y1="126.14" x2="305.45" y2="134.69" stroke="#5cc08a" stroke-width="0.55"/>
<line x1="308.08" y1="122.14" x2="300.04" y2="129.65" stroke="#5cc08a" stroke-width="0.55"/>
<line x1="319.74" y1="122.85" x2="314.29" y2="131.24" stroke="#5cc08a" stroke-width="0.55"/>
<path d="M317.67 133.23A45 45 0 0 1 311.1 128.96" fill="none" stroke="#5cc08a" stroke-width="0.55"/>
<line x1="317.67" y1="133.23" x2="312.98" y2="142.06" stroke="#5cc08a" stroke-width="0.55"/>
<line x1="311.1" y1="128.96" x2="304.94" y2="136.84" stroke="#5cc08a" stroke-width="0.55"/>
<line x1="326.26" y1="126.18" x2="314.43" y2="156.98" stroke="#5cc08a" stroke-width="0.55"/>
<path d="M317.79 158.17A68 68 0 0 1 312.23 156.09" fill="none" stroke="#5cc08a" stroke-width="0.55"/>
<line x1="338.16" y1="129.99" x2="338.08" y2="134.49" stroke="#5cc08a" stroke-width="0.55"/>
<path d="M343.09 134.28A41 41 0 0 1 332.39 134" fill="none" stroke="#5cc08a" stroke-width="0.55"/>
<line x1="343.09" y1="134.28" x2="344.29" y2="145.71" stroke="#5cc08a" stroke-width="0.55"/>
<line x1="337.37" y1="134.48" x2="336.97" y2="145.97" stroke="#5cc08a" stroke-width="0.55"/>
<line x1="332.39" y1="134" x2="330.59" y2="145.35" stroke="#5cc08a" stroke-width="0.55"/>
<path d="M341.26 140.44A47 47 0 0 1 334.3 140.28" fill="none" stroke="#5cc08a" stroke-width="0.55"/>
<line x1="347.01" y1="129.06" x2="349.37" y2="139.3" stroke="#5cc08a" stroke-width="0.55"/>
<path d="M351.75 138.68A47 47 0 0 1 346.96 139.79" fill="none" stroke="#5cc08a" stroke-width="0.55"/>
<line x1="351.75" y1="138.68" x2="353.41" y2="144.45" stroke="#5cc08a" stroke-width="0.55"/>
<line x1="349.37" y1="139.3" x2="350.72" y2="145.14" stroke="#5cc08a" stroke-width="0.55"/>
<line x1="346.96" y1="139.79" x2="348" y2="145.69" stroke="#5cc08a" stroke-width="0.55"/>
<line x1="348.25" y1="128.76" x2="351.74" y2="141.8" stroke="#5cc08a" stroke-width="0.55"/>
<path d="M387.1 106.44A50 50 0 0 1 351.74 141.8" fill="none" stroke="#5cc08a" stroke-width="0.55"/>
<line x1="361.8" y1="133.34" x2="364.8" y2="138.53" stroke="#5cc08a" stroke-width="0.55"/>
<line x1="358.97" y1="134.84" x2="361.6" y2="140.24" stroke="#5cc08a" stroke-width="0.55"/>
<line x1="356.03" y1="136.15" x2="358.28" y2="141.71" stroke="#5cc08a" stroke-width="0.55"/>
<line x1="353.01" y1="137.25" x2="354.87" y2="142.95" stroke="#5cc08a" stroke-width="0.55"/>
<path d="M361.8 133.34A46 46 0 0 1 353.01 137.25" fill="none" stroke="#5cc08a" stroke-width="0.55"/>
<path d="M289.79 74.69A52.5 52.5 0 0 1 340.63 41.03" fill="none" stroke="#4f9a4a" stroke-width="0.85"/>
<path d="M290.63 75.01A51.6 51.6 0 0 1 340.6 41.93" fill="none" stroke="#9a7d3a" stroke-width="0.45" opacity="0.7"/>
<path d="M341.56 40.77A52.8 52.8 0 0 1 373.44 53.65" fill="none" stroke="#4f9a4a" stroke-width="0.85"/>
<path d="M341.52 41.67A51.9 51.9 0 0 1 372.85 54.33" fill="none" stroke="#9a7d3a" stroke-width="0.45" opacity="0.7"/>
<path d="M384.49 44.5A67 67 0 0 1 400.92 68.4" fill="none" stroke="#4f9a4a" stroke-width="0.85"/>
<path d="M383.88 45.16A66.1 66.1 0 0 1 400.09 68.74" fill="none" stroke="#9a7d3a" stroke-width="0.45" opacity="0.7"/>
<path d="M389.32 107.04A52.3 52.3 0 0 1 354.09 143.51" fill="none" stroke="#4f9a4a" stroke-width="0.85"/>
<path d="M388.45 106.8A51.4 51.4 0 0 1 353.83 142.65" fill="none" stroke="#9a7d3a" stroke-width="0.45" opacity="0.7"/>
<path d="M354.38 144.47A53.3 53.3 0 0 1 328.63 145.82" fill="none" stroke="#4f9a4a" stroke-width="0.85"/>
<path d="M354.12 143.61A52.4 52.4 0 0 1 328.8 144.94" fill="none" stroke="#9a7d3a" stroke-width="0.45" opacity="0.7"/>
<path d="M314.65 140.9A53.2 53.2 0 0 1 287.92 77.95" fill="none" stroke="#4f9a4a" stroke-width="0.85"/>
<path d="M315.06 140.1A52.3 52.3 0 0 1 288.79 78.21" fill="none" stroke="#9a7d3a" stroke-width="0.45" opacity="0.7"/>
<path d="M282.32 72.38A60.3 60.3 0 0 1 345.1 33.53" fill="none" stroke="#e07cc6" stroke-width="1.1"/>
<path d="M340.71 38.93A54.6 54.6 0 0 1 374.62 52.29" fill="none" stroke="#1fb5a5" stroke-width="1.5"/>
<path d="M388.59 40.11A73 73 0 0 1 406.48 66.15" fill="none" stroke="#2bb7dc" stroke-width="1.3"/>
<path d="M392.96 108.52A56.2 56.2 0 0 1 355.23 147.24" fill="none" stroke="#c3a23c" stroke-width="1.2"/>
<path d="M355.17 147.05A56 56 0 0 1 347.08 148.88" fill="none" stroke="#6d9fe0" stroke-width="1.3"/>
<path d="M346.57 148.76A55.8 55.8 0 0 1 328.63 148.37" fill="none" stroke="#7eb041" stroke-width="1.4"/>
<path d="M319.4 161.17A70.4 70.4 0 0 1 309.05 157.3" fill="none" stroke="#ef6f9a" stroke-width="1.1"/>
<path d="M312.94 143.17A56 56 0 0 1 303.94 137.33" fill="none" stroke="#ef9158" stroke-width="1.3"/>
<path d="M303.87 136.63A55.5 55.5 0 0 1 297.56 130.64" fill="none" stroke="#c4ab55" stroke-width="1.1"/>
<path d="M296.28 129.17A55.5 55.5 0 0 1 287.34 114.29" fill="none" stroke="#c4ab55" stroke-width="1.1"/>
<path d="M286.89 113.43A55.6 55.6 0 0 1 285.63 77.24" fill="none" stroke="#ef9158" stroke-width="1.2"/>
<path d="M287.16 77.71A54 54 0 0 1 288.39 74.15" fill="none" stroke="#3cc08b" stroke-width="1"/>
<text x="296.99" y="34.88" font-size="7" fill="#e07cc6" text-anchor="middle" dominant-baseline="central" transform="rotate(54.5 296.99 34.88)">CC398</text>
<text x="363.82" y="35.68" font-size="7" fill="#1fb5a5" text-anchor="middle" dominant-baseline="central" transform="rotate(293.4 363.82 35.68)">CC30</text>
<text x="387.6" y="35.76" font-size="7" fill="#2bb7dc" text-anchor="middle" dominant-baseline="central" transform="rotate(310.2 387.6 35.76)">CC45</text>
<text x="386.77" y="138.39" font-size="7" fill="#c3a23c" text-anchor="middle" dominant-baseline="central" transform="rotate(43.1 386.77 138.39)">CC8</text>
<text x="353.31" y="158.4" font-size="7" fill="#6d9fe0" text-anchor="middle" dominant-baseline="central" transform="rotate(77.4 353.31 158.4)">CC97</text>
<text x="333.93" y="159.82" font-size="7" fill="#7eb041" text-anchor="middle" dominant-baseline="central" transform="rotate(-85.8 333.93 159.82)">CC15</text>
<text x="309.71" y="165.87" font-size="7" fill="#ef6f9a" text-anchor="middle" dominant-baseline="central" transform="rotate(-68.1 309.71 165.87)">CC1</text>
<text x="303.02" y="147.77" font-size="7" fill="#ef9158" text-anchor="middle" dominant-baseline="central" transform="rotate(-56.6 303.02 147.77)">CC5</text>
<text x="297.04" y="142.39" font-size="7" fill="#c4ab55" text-anchor="middle" dominant-baseline="central" transform="rotate(-49.5 297.04 142.39)">CC8</text>
<text x="285.01" y="127.24" font-size="7" fill="#c4ab55" text-anchor="middle" dominant-baseline="central" transform="rotate(-32.1 285.01 127.24)">CC6</text>
<text x="281.59" y="72.34" font-size="7" fill="#3cc08b" text-anchor="middle" dominant-baseline="central" transform="rotate(20.3 281.59 72.34)">CC22</text>
<text x="275" y="103.6" font-size="7" fill="#ef9158" text-anchor="middle">CC5</text>
<text x="381.5" y="92" font-size="7" fill="#a86cc8" text-anchor="middle">CC121</text>
<text x="309.5" y="102.9" font-size="6.7" fill="#222" text-anchor="start">0.001 Substitutions/Site</text>
<line x1="340" y1="105.4" x2="344.8" y2="105.4" stroke="#222" stroke-width="1"/>
<text x="428.5" y="106.5" font-size="6.6" fill="#222" text-anchor="middle" transform="rotate(-90 428.5 106.5)" dominant-baseline="central">Source</text>
<defs><linearGradient id="bs" x1="0" y1="0" x2="0" y2="1"><stop offset="0" stop-color="#2e9e52"/><stop offset="0.5" stop-color="#7b6a2e"/><stop offset="1" stop-color="#bf2a2a"/></linearGradient></defs>
<text x="437.8" y="41.7" font-size="6.7" fill="#222" text-anchor="start">Bootstrap Support</text>
<rect x="437.8" y="45.6" width="9.4" height="47.2" fill="url(#bs)" stroke="none" stroke-width="1"/>
<text x="449.5" y="47.8" font-size="6.5" fill="#222" text-anchor="start">100</text>
<text x="449.5" y="59.8" font-size="6.5" fill="#222" text-anchor="start">75</text>
<line x1="437.8" y1="57.4" x2="439.6" y2="57.4" stroke="#fff" stroke-width="0.4"/>
<line x1="445.4" y1="57.4" x2="447.2" y2="57.4" stroke="#fff" stroke-width="0.4"/>
<text x="449.5" y="71.9" font-size="6.5" fill="#222" text-anchor="start">50</text>
<line x1="437.8" y1="69.5" x2="439.6" y2="69.5" stroke="#fff" stroke-width="0.4"/>
<line x1="445.4" y1="69.5" x2="447.2" y2="69.5" stroke="#fff" stroke-width="0.4"/>
<text x="449.5" y="84.1" font-size="6.5" fill="#222" text-anchor="start">25</text>
<line x1="437.8" y1="81.7" x2="439.6" y2="81.7" stroke="#fff" stroke-width="0.4"/>
<line x1="445.4" y1="81.7" x2="447.2" y2="81.7" stroke="#fff" stroke-width="0.4"/>
<text x="438" y="110.1" font-size="6.6" fill="#222" text-anchor="start">Source</text>
<rect x="438" y="113.4" width="8.8" height="9.5" fill="#232c6c" stroke="none" stroke-width="1"/>
<text x="449.9" y="120.5" font-size="6.6" fill="#222" text-anchor="start">Colonizing</text>
<rect x="438" y="122.8" width="8.8" height="9.6" fill="#a9adb3" stroke="none" stroke-width="1"/>
<text x="449.9" y="129.95" font-size="6.6" fill="#222" text-anchor="start">Environmental</text>
<rect x="438" y="132.3" width="8.8" height="9.5" fill="#b0262e" stroke="none" stroke-width="1"/>
<text x="449.9" y="139.4" font-size="6.6" fill="#222" text-anchor="start">Invasive</text>
<defs><pattern id="vt" width="32" height="32" patternUnits="userSpaceOnUse"><rect x="0" y="0" width="1" height="1" fill="#c8db2d"/><rect x="1" y="0" width="1" height="1" fill="#c1da2f"/><rect x="2" y="0" width="1" height="1" fill="#a9d439"/><rect x="3" y="0" width="1" height="1" fill="#8ecc47"/><rect x="4" y="0" width="1" height="1" fill="#a2cd3f"/><rect x="5" y="0" width="1" height="1" fill="#b6d833"/><rect x="6" y="0" width="1" height="1" fill="#c8dc2c"/><rect x="7" y="0" width="1" height="1" fill="#a1d13e"/><rect x="8" y="0" width="1" height="1" fill="#75c156"/><rect x="9" y="0" width="1" height="1" fill="#7cc652"/><rect x="10" y="0" width="1" height="1" fill="#9cd041"/><rect x="11" y="0" width="1" height="1" fill="#b6d735"/><rect x="12" y="0" width="1" height="1" fill="#8dcb49"/><rect x="13" y="0" width="1" height="1" fill="#76ba57"/><rect x="14" y="0" width="1" height="1" fill="#b0d538"/><rect x="15" y="0" width="1" height="1" fill="#c3da2e"/><rect x="16" y="0" width="1" height="1" fill="#cedd2a"/><rect x="17" y="0" width="1" height="1" fill="#c8dc2c"/><rect x="18" y="0" width="1" height="1" fill="#ccdd2a"/><rect x="19" y="0" width="1" height="1" fill="#bad832"/><rect x="20" y="0" width="1" height="1" fill="#a5d33c"/><rect x="21" y="0" width="1" height="1" fill="#8fcd47"/><rect x="22" y="0" width="1" height="1" fill="#a8d43a"/><rect x="23" y="0" width="1" height="1" fill="#bbd931"/><rect x="24" y="0" width="1" height="1" fill="#c3da2f"/><rect x="25" y="0" width="1" height="1" fill="#c2da2f"/><rect x="26" y="0" width="1" height="1" fill="#cfde28"/><rect x="27" y="0" width="1" height="1" fill="#b9d832"/><rect x="28" y="0" width="1" height="1" fill="#beda30"/><rect x="29" y="0" width="1" height="1" fill="#a3d13d"/><rect x="30" y="0" width="1" height="1" fill="#b2d635"/><rect x="31" y="0" width="1" height="1" fill="#95ce45"/><rect x="0" y="1" width="1" height="1" fill="#d0de28"/><rect x="1" y="1" width="1" height="1" fill="#cddd29"/><rect x="2" y="1" width="1" height="1" fill="#a6d23b"/><rect x="3" y="1" width="1" height="1" fill="#5ab565"/><rect x="4" y="1" width="1" height="1" fill="#65ad64"/><rect x="5" y="1" width="1" height="1" fill="#99ca44"/><rect x="6" y="1" width="1" height="1" fill="#c4db2e"/><rect x="7" y="1" width="1" height="1" fill="#9dd140"/><rect x="8" y="1" width="1" height="1" fill="#a2d03f"/><rect x="9" y="1" width="1" height="1" fill="#b7d734"/><rect x="10" y="1" width="1" height="1" fill="#c6db2d"/><rect x="11" y="1" width="1" height="1" fill="#c5db2d"/><rect x="12" y="1" width="1" height="1" fill="#bad833"/><rect x="13" y="1" width="1" height="1" fill="#b0d637"/><rect x="14" y="1" width="1" height="1" fill="#9cd041"/><rect x="15" y="1" width="1" height="1" fill="#80c84f"/><rect x="16" y="1" width="1" height="1" fill="#92ce45"/><rect x="17" y="1" width="1" height="1" fill="#b5d734"/><rect x="18" y="1" width="1" height="1" fill="#c5db2c"/><rect x="19" y="1" width="1" height="1" fill="#c7dc2c"/><rect x="20" y="1" width="1" height="1" fill="#c1da2f"/><rect x="21" y="1" width="1" height="1" fill="#b4d734"/><rect x="22" y="1" width="1" height="1" fill="#9dd140"/><rect x="23" y="1" width="1" height="1" fill="#bed931"/><rect x="24" y="1" width="1" height="1" fill="#c0da30"/><rect x="25" y="1" width="1" height="1" fill="#9cd041"/><rect x="26" y="1" width="1" height="1" fill="#c4db2d"/><rect x="27" y="1" width="1" height="1" fill="#cadc2a"/><rect x="28" y="1" width="1" height="1" fill="#9ccf41"/><rect x="29" y="1" width="1" height="1" fill="#6dbf59"/><rect x="30" y="1" width="1" height="1" fill="#acd438"/><rect x="31" y="1" width="1" height="1" fill="#b6d734"/><rect x="0" y="2" width="1" height="1" fill="#9fd13f"/><rect x="1" y="2" width="1" height="1" fill="#a1d23e"/><rect x="2" y="2" width="1" height="1" fill="#c3da2e"/><rect x="3" y="2" width="1" height="1" fill="#98ce43"/><rect x="4" y="2" width="1" height="1" fill="#a6cc3f"/><rect x="5" y="2" width="1" height="1" fill="#85c54e"/><rect x="6" y="2" width="1" height="1" fill="#9dcf40"/><rect x="7" y="2" width="1" height="1" fill="#8bcb49"/><rect x="8" y="2" width="1" height="1" fill="#7ac253"/><rect x="9" y="2" width="1" height="1" fill="#b4d635"/><rect x="10" y="2" width="1" height="1" fill="#d2de26"/><rect x="11" y="2" width="1" height="1" fill="#c1da2e"/><rect x="12" y="2" width="1" height="1" fill="#b6d833"/><rect x="13" y="2" width="1" height="1" fill="#cddd2a"/><rect x="14" y="2" width="1" height="1" fill="#aacf3d"/><rect x="15" y="2" width="1" height="1" fill="#9ad041"/><rect x="16" y="2" width="1" height="1" fill="#a7d43a"/><rect x="17" y="2" width="1" height="1" fill="#c7db2c"/><rect x="18" y="2" width="1" height="1" fill="#afd537"/><rect x="19" y="2" width="1" height="1" fill="#aed637"/><rect x="20" y="2" width="1" height="1" fill="#bfda2f"/><rect x="21" y="2" width="1" height="1" fill="#b6d735"/><rect x="22" y="2" width="1" height="1" fill="#96cf43"/><rect x="23" y="2" width="1" height="1" fill="#96cf43"/><rect x="24" y="2" width="1" height="1" fill="#8fcd47"/><rect x="25" y="2" width="1" height="1" fill="#77c454"/><rect x="26" y="2" width="1" height="1" fill="#c2da2e"/><rect x="27" y="2" width="1" height="1" fill="#d8e024"/><rect x="28" y="2" width="1" height="1" fill="#bcd932"/><rect x="29" y="2" width="1" height="1" fill="#99ce42"/><rect x="30" y="2" width="1" height="1" fill="#b5d733"/><rect x="31" y="2" width="1" height="1" fill="#b2d635"/><rect x="0" y="3" width="1" height="1" fill="#9ccc42"/><rect x="1" y="3" width="1" height="1" fill="#9ed03f"/><rect x="2" y="3" width="1" height="1" fill="#c2da2e"/><rect x="3" y="3" width="1" height="1" fill="#b0d636"/><rect x="4" y="3" width="1" height="1" fill="#bed930"/><rect x="5" y="3" width="1" height="1" fill="#add33a"/><rect x="6" y="3" width="1" height="1" fill="#87ca4c"/><rect x="7" y="3" width="1" height="1" fill="#aad439"/><rect x="8" y="3" width="1" height="1" fill="#a0cf3f"/><rect x="9" y="3" width="1" height="1" fill="#cbdd2a"/><rect x="10" y="3" width="1" height="1" fill="#c7dc2c"/><rect x="11" y="3" width="1" height="1" fill="#b8d734"/><rect x="12" y="3" width="1" height="1" fill="#bed930"/><rect x="13" y="3" width="1" height="1" fill="#afcf3a"/><rect x="14" y="3" width="1" height="1" fill="#79b35a"/><rect x="15" y="3" width="1" height="1" fill="#b8d235"/><rect x="16" y="3" width="1" height="1" fill="#c7dc2b"/><rect x="17" y="3" width="1" height="1" fill="#d5df25"/><rect x="18" y="3" width="1" height="1" fill="#c3da2e"/><rect x="19" y="3" width="1" height="1" fill="#a6d33c"/><rect x="20" y="3" width="1" height="1" fill="#a0d23e"/><rect x="21" y="3" width="1" height="1" fill="#7fc750"/><rect x="22" y="3" width="1" height="1" fill="#9acf41"/><rect x="23" y="3" width="1" height="1" fill="#a2d13d"/><rect x="24" y="3" width="1" height="1" fill="#99cf41"/><rect x="25" y="3" width="1" height="1" fill="#6bbe5a"/><rect x="26" y="3" width="1" height="1" fill="#90cc46"/><rect x="27" y="3" width="1" height="1" fill="#a4d33c"/><rect x="28" y="3" width="1" height="1" fill="#b9d832"/><rect x="29" y="3" width="1" height="1" fill="#c8dc2b"/><rect x="30" y="3" width="1" height="1" fill="#c1da2e"/><rect x="31" y="3" width="1" height="1" fill="#b4d733"/><rect x="0" y="4" width="1" height="1" fill="#68ae63"/><rect x="1" y="4" width="1" height="1" fill="#51b269"/><rect x="2" y="4" width="1" height="1" fill="#74be58"/><rect x="3" y="4" width="1" height="1" fill="#bad833"/><rect x="4" y="4" width="1" height="1" fill="#b6d833"/><rect x="5" y="4" width="1" height="1" fill="#9ecc42"/><rect x="6" y="4" width="1" height="1" fill="#7dc750"/><rect x="7" y="4" width="1" height="1" fill="#9ed03f"/><rect x="8" y="4" width="1" height="1" fill="#7dc451"/><rect x="9" y="4" width="1" height="1" fill="#b0d438"/><rect x="10" y="4" width="1" height="1" fill="#afd437"/><rect x="11" y="4" width="1" height="1" fill="#80c450"/><rect x="12" y="4" width="1" height="1" fill="#95cc44"/><rect x="13" y="4" width="1" height="1" fill="#7cc352"/><rect x="14" y="4" width="1" height="1" fill="#94c846"/><rect x="15" y="4" width="1" height="1" fill="#bfd831"/><rect x="16" y="4" width="1" height="1" fill="#cfde28"/><rect x="17" y="4" width="1" height="1" fill="#b9d832"/><rect x="18" y="4" width="1" height="1" fill="#b7d832"/><rect x="19" y="4" width="1" height="1" fill="#bad832"/><rect x="20" y="4" width="1" height="1" fill="#bbd733"/><rect x="21" y="4" width="1" height="1" fill="#56b666"/><rect x="22" y="4" width="1" height="1" fill="#63ba5f"/><rect x="23" y="4" width="1" height="1" fill="#63bb5f"/><rect x="24" y="4" width="1" height="1" fill="#a6d23c"/><rect x="25" y="4" width="1" height="1" fill="#b8d734"/><rect x="26" y="4" width="1" height="1" fill="#a8d43a"/><rect x="27" y="4" width="1" height="1" fill="#90cc46"/><rect x="28" y="4" width="1" height="1" fill="#c8dc2b"/><rect x="29" y="4" width="1" height="1" fill="#cedd2a"/><rect x="30" y="4" width="1" height="1" fill="#d3df27"/><rect x="31" y="4" width="1" height="1" fill="#bcd433"/><rect x="0" y="5" width="1" height="1" fill="#aed03b"/><rect x="1" y="5" width="1" height="1" fill="#72be58"/><rect x="2" y="5" width="1" height="1" fill="#55aa6c"/><rect x="3" y="5" width="1" height="1" fill="#b0d03a"/><rect x="4" y="5" width="1" height="1" fill="#b5d237"/><rect x="5" y="5" width="1" height="1" fill="#6cb060"/><rect x="6" y="5" width="1" height="1" fill="#82c54f"/><rect x="7" y="5" width="1" height="1" fill="#a6d43a"/><rect x="8" y="5" width="1" height="1" fill="#94cd44"/><rect x="9" y="5" width="1" height="1" fill="#8ccb49"/><rect x="10" y="5" width="1" height="1" fill="#b8d832"/><rect x="11" y="5" width="1" height="1" fill="#bad733"/><rect x="12" y="5" width="1" height="1" fill="#d4df26"/><rect x="13" y="5" width="1" height="1" fill="#b3d535"/><rect x="14" y="5" width="1" height="1" fill="#b1d437"/><rect x="15" y="5" width="1" height="1" fill="#82c54f"/><rect x="16" y="5" width="1" height="1" fill="#a9d23b"/><rect x="17" y="5" width="1" height="1" fill="#c8dc2c"/><rect x="18" y="5" width="1" height="1" fill="#c4db2e"/><rect x="19" y="5" width="1" height="1" fill="#add539"/><rect x="20" y="5" width="1" height="1" fill="#aed439"/><rect x="21" y="5" width="1" height="1" fill="#79c155"/><rect x="22" y="5" width="1" height="1" fill="#9ece41"/><rect x="23" y="5" width="1" height="1" fill="#72c356"/><rect x="24" y="5" width="1" height="1" fill="#96cf44"/><rect x="25" y="5" width="1" height="1" fill="#cadc2c"/><rect x="26" y="5" width="1" height="1" fill="#bdd832"/><rect x="27" y="5" width="1" height="1" fill="#7ac253"/><rect x="28" y="5" width="1" height="1" fill="#9fd03f"/><rect x="29" y="5" width="1" height="1" fill="#aad43a"/><rect x="30" y="5" width="1" height="1" fill="#c7dc2d"/><rect x="31" y="5" width="1" height="1" fill="#c4db2d"/><rect x="0" y="6" width="1" height="1" fill="#cfde28"/><rect x="1" y="6" width="1" height="1" fill="#bed931"/><rect x="2" y="6" width="1" height="1" fill="#86c64e"/><rect x="3" y="6" width="1" height="1" fill="#90cc47"/><rect x="4" y="6" width="1" height="1" fill="#b1d636"/><rect x="5" y="6" width="1" height="1" fill="#afd039"/><rect x="6" y="6" width="1" height="1" fill="#c1da2f"/><rect x="7" y="6" width="1" height="1" fill="#bfda2f"/><rect x="8" y="6" width="1" height="1" fill="#c2da2e"/><rect x="9" y="6" width="1" height="1" fill="#afd537"/><rect x="10" y="6" width="1" height="1" fill="#c9dc2a"/><rect x="11" y="6" width="1" height="1" fill="#acd438"/><rect x="12" y="6" width="1" height="1" fill="#c2da2e"/><rect x="13" y="6" width="1" height="1" fill="#99ce41"/><rect x="14" y="6" width="1" height="1" fill="#87ca4b"/><rect x="15" y="6" width="1" height="1" fill="#89ca49"/><rect x="16" y="6" width="1" height="1" fill="#7cc651"/><rect x="17" y="6" width="1" height="1" fill="#b7d734"/><rect x="18" y="6" width="1" height="1" fill="#cbdd2b"/><rect x="19" y="6" width="1" height="1" fill="#bad832"/><rect x="20" y="6" width="1" height="1" fill="#aad43a"/><rect x="21" y="6" width="1" height="1" fill="#abd33a"/><rect x="22" y="6" width="1" height="1" fill="#9ed140"/><rect x="23" y="6" width="1" height="1" fill="#7fc74f"/><rect x="24" y="6" width="1" height="1" fill="#a0d23e"/><rect x="25" y="6" width="1" height="1" fill="#cddd2a"/><rect x="26" y="6" width="1" height="1" fill="#d5df25"/><rect x="27" y="6" width="1" height="1" fill="#a6d23c"/><rect x="28" y="6" width="1" height="1" fill="#8bcb49"/><rect x="29" y="6" width="1" height="1" fill="#b6d735"/><rect x="30" y="6" width="1" height="1" fill="#cede2a"/><rect x="31" y="6" width="1" height="1" fill="#b0d636"/><rect x="0" y="7" width="1" height="1" fill="#add537"/><rect x="1" y="7" width="1" height="1" fill="#c1da2f"/><rect x="2" y="7" width="1" height="1" fill="#bad832"/><rect x="3" y="7" width="1" height="1" fill="#c1da2f"/><rect x="4" y="7" width="1" height="1" fill="#b0d636"/><rect x="5" y="7" width="1" height="1" fill="#c8dc2c"/><rect x="6" y="7" width="1" height="1" fill="#c2da2e"/><rect x="7" y="7" width="1" height="1" fill="#b9d831"/><rect x="8" y="7" width="1" height="1" fill="#b7d734"/><rect x="9" y="7" width="1" height="1" fill="#c8dc2c"/><rect x="10" y="7" width="1" height="1" fill="#b4d635"/><rect x="11" y="7" width="1" height="1" fill="#6cbf5a"/><rect x="12" y="7" width="1" height="1" fill="#79c453"/><rect x="13" y="7" width="1" height="1" fill="#6bbe5a"/><rect x="14" y="7" width="1" height="1" fill="#7fc84f"/><rect x="15" y="7" width="1" height="1" fill="#9fd03e"/><rect x="16" y="7" width="1" height="1" fill="#6fc058"/><rect x="17" y="7" width="1" height="1" fill="#a9d33a"/><rect x="18" y="7" width="1" height="1" fill="#afd636"/><rect x="19" y="7" width="1" height="1" fill="#a4d33c"/><rect x="20" y="7" width="1" height="1" fill="#9fcc40"/><rect x="21" y="7" width="1" height="1" fill="#c2da2e"/><rect x="22" y="7" width="1" height="1" fill="#bdd930"/><rect x="23" y="7" width="1" height="1" fill="#c8db2b"/><rect x="24" y="7" width="1" height="1" fill="#b7d833"/><rect x="25" y="7" width="1" height="1" fill="#b8d832"/><rect x="26" y="7" width="1" height="1" fill="#c1da2e"/><rect x="27" y="7" width="1" height="1" fill="#b8d832"/><rect x="28" y="7" width="1" height="1" fill="#96cf44"/><rect x="29" y="7" width="1" height="1" fill="#afd637"/><rect x="30" y="7" width="1" height="1" fill="#beda30"/><rect x="31" y="7" width="1" height="1" fill="#92ce45"/><rect x="0" y="8" width="1" height="1" fill="#9dd13f"/><rect x="1" y="8" width="1" height="1" fill="#a1d23e"/><rect x="2" y="8" width="1" height="1" fill="#aed537"/><rect x="3" y="8" width="1" height="1" fill="#bcd930"/><rect x="4" y="8" width="1" height="1" fill="#a4d33d"/><rect x="5" y="8" width="1" height="1" fill="#c7dc2d"/><rect x="6" y="8" width="1" height="1" fill="#bfda2f"/><rect x="7" y="8" width="1" height="1" fill="#a9d439"/><rect x="8" y="8" width="1" height="1" fill="#8fcc47"/><rect x="9" y="8" width="1" height="1" fill="#c3da2f"/><rect x="10" y="8" width="1" height="1" fill="#c1da2e"/><rect x="11" y="8" width="1" height="1" fill="#a8d23a"/><rect x="12" y="8" width="1" height="1" fill="#c0da2f"/><rect x="13" y="8" width="1" height="1" fill="#b9d734"/><rect x="14" y="8" width="1" height="1" fill="#9dd140"/><rect x="15" y="8" width="1" height="1" fill="#aad538"/><rect x="16" y="8" width="1" height="1" fill="#96ce42"/><rect x="17" y="8" width="1" height="1" fill="#b6d833"/><rect x="18" y="8" width="1" height="1" fill="#aed537"/><rect x="19" y="8" width="1" height="1" fill="#7ec252"/><rect x="20" y="8" width="1" height="1" fill="#6aaf62"/><rect x="21" y="8" width="1" height="1" fill="#b8d336"/><rect x="22" y="8" width="1" height="1" fill="#c4db2e"/><rect x="23" y="8" width="1" height="1" fill="#c0d830"/><rect x="24" y="8" width="1" height="1" fill="#a2d23e"/><rect x="25" y="8" width="1" height="1" fill="#9dd140"/><rect x="26" y="8" width="1" height="1" fill="#b2d636"/><rect x="27" y="8" width="1" height="1" fill="#c8dc2c"/><rect x="28" y="8" width="1" height="1" fill="#bed931"/><rect x="29" y="8" width="1" height="1" fill="#bed930"/><rect x="30" y="8" width="1" height="1" fill="#a7d43a"/><rect x="31" y="8" width="1" height="1" fill="#87ca4b"/><rect x="0" y="9" width="1" height="1" fill="#d1de28"/><rect x="1" y="9" width="1" height="1" fill="#ccdd2a"/><rect x="2" y="9" width="1" height="1" fill="#d0de27"/><rect x="3" y="9" width="1" height="1" fill="#ccdc2a"/><rect x="4" y="9" width="1" height="1" fill="#c2da2f"/><rect x="5" y="9" width="1" height="1" fill="#d6df26"/><rect x="6" y="9" width="1" height="1" fill="#d4df26"/><rect x="7" y="9" width="1" height="1" fill="#c8dc2b"/><rect x="8" y="9" width="1" height="1" fill="#b8d832"/><rect x="9" y="9" width="1" height="1" fill="#d0de28"/><rect x="10" y="9" width="1" height="1" fill="#dae023"/><rect x="11" y="9" width="1" height="1" fill="#c0da30"/><rect x="12" y="9" width="1" height="1" fill="#bad931"/><rect x="13" y="9" width="1" height="1" fill="#cede2a"/><rect x="14" y="9" width="1" height="1" fill="#c9dc2c"/><rect x="15" y="9" width="1" height="1" fill="#c8dc2b"/><rect x="16" y="9" width="1" height="1" fill="#a2d23d"/><rect x="17" y="9" width="1" height="1" fill="#aed537"/><rect x="18" y="9" width="1" height="1" fill="#b2d635"/><rect x="19" y="9" width="1" height="1" fill="#c7db2c"/><rect x="20" y="9" width="1" height="1" fill="#aace3d"/><rect x="21" y="9" width="1" height="1" fill="#b7d734"/><rect x="22" y="9" width="1" height="1" fill="#7fc750"/><rect x="23" y="9" width="1" height="1" fill="#67b85f"/><rect x="24" y="9" width="1" height="1" fill="#b9d734"/><rect x="25" y="9" width="1" height="1" fill="#bad832"/><rect x="26" y="9" width="1" height="1" fill="#9ad041"/><rect x="27" y="9" width="1" height="1" fill="#a2d23c"/><rect x="28" y="9" width="1" height="1" fill="#9fd13f"/><rect x="29" y="9" width="1" height="1" fill="#cbdc2a"/><rect x="30" y="9" width="1" height="1" fill="#c5db2c"/><rect x="31" y="9" width="1" height="1" fill="#c4da2e"/><rect x="0" y="10" width="1" height="1" fill="#cfde28"/><rect x="1" y="10" width="1" height="1" fill="#cadc2b"/><rect x="2" y="10" width="1" height="1" fill="#afd537"/><rect x="3" y="10" width="1" height="1" fill="#7ac552"/><rect x="4" y="10" width="1" height="1" fill="#a0d13f"/><rect x="5" y="10" width="1" height="1" fill="#c0d830"/><rect x="6" y="10" width="1" height="1" fill="#d0de28"/><rect x="7" y="10" width="1" height="1" fill="#aad439"/><rect x="8" y="10" width="1" height="1" fill="#a6d23c"/><rect x="9" y="10" width="1" height="1" fill="#b4d635"/><rect x="10" y="10" width="1" height="1" fill="#d2de27"/><rect x="11" y="10" width="1" height="1" fill="#99ce42"/><rect x="12" y="10" width="1" height="1" fill="#b8d832"/><rect x="13" y="10" width="1" height="1" fill="#c0da30"/><rect x="14" y="10" width="1" height="1" fill="#c7dc2c"/><rect x="15" y="10" width="1" height="1" fill="#c4db2d"/><rect x="16" y="10" width="1" height="1" fill="#c3db2e"/><rect x="17" y="10" width="1" height="1" fill="#c7db2c"/><rect x="18" y="10" width="1" height="1" fill="#8dcb48"/><rect x="19" y="10" width="1" height="1" fill="#abd33a"/><rect x="20" y="10" width="1" height="1" fill="#84c54f"/><rect x="21" y="10" width="1" height="1" fill="#acd438"/><rect x="22" y="10" width="1" height="1" fill="#91c947"/><rect x="23" y="10" width="1" height="1" fill="#5eab67"/><rect x="24" y="10" width="1" height="1" fill="#bfd432"/><rect x="25" y="10" width="1" height="1" fill="#b0d636"/><rect x="26" y="10" width="1" height="1" fill="#91ce45"/><rect x="27" y="10" width="1" height="1" fill="#a2d23c"/><rect x="28" y="10" width="1" height="1" fill="#93ce44"/><rect x="29" y="10" width="1" height="1" fill="#c6db2d"/><rect x="30" y="10" width="1" height="1" fill="#c8dc2c"/><rect x="31" y="10" width="1" height="1" fill="#b9d832"/><rect x="0" y="11" width="1" height="1" fill="#b1d635"/><rect x="1" y="11" width="1" height="1" fill="#a7d43a"/><rect x="2" y="11" width="1" height="1" fill="#b5d635"/><rect x="3" y="11" width="1" height="1" fill="#75c156"/><rect x="4" y="11" width="1" height="1" fill="#92ca48"/><rect x="5" y="11" width="1" height="1" fill="#88c64d"/><rect x="6" y="11" width="1" height="1" fill="#b6d634"/><rect x="7" y="11" width="1" height="1" fill="#92c847"/><rect x="8" y="11" width="1" height="1" fill="#5daf65"/><rect x="9" y="11" width="1" height="1" fill="#73bf57"/><rect x="10" y="11" width="1" height="1" fill="#b9d534"/><rect x="11" y="11" width="1" height="1" fill="#6fbe59"/><rect x="12" y="11" width="1" height="1" fill="#b2d437"/><rect x="13" y="11" width="1" height="1" fill="#8ecb48"/><rect x="14" y="11" width="1" height="1" fill="#c8db2b"/><rect x="15" y="11" width="1" height="1" fill="#c1da2e"/><rect x="16" y="11" width="1" height="1" fill="#b6d833"/><rect x="17" y="11" width="1" height="1" fill="#b8d734"/><rect x="18" y="11" width="1" height="1" fill="#9ad041"/><rect x="19" y="11" width="1" height="1" fill="#cbdc2a"/><rect x="20" y="11" width="1" height="1" fill="#c0d830"/><rect x="21" y="11" width="1" height="1" fill="#cede29"/><rect x="22" y="11" width="1" height="1" fill="#bed930"/><rect x="23" y="11" width="1" height="1" fill="#9fcd40"/><rect x="24" y="11" width="1" height="1" fill="#bed930"/><rect x="25" y="11" width="1" height="1" fill="#bcd930"/><rect x="26" y="11" width="1" height="1" fill="#a0d23e"/><rect x="27" y="11" width="1" height="1" fill="#beda30"/><rect x="28" y="11" width="1" height="1" fill="#93ce44"/><rect x="29" y="11" width="1" height="1" fill="#a9d439"/><rect x="30" y="11" width="1" height="1" fill="#b2d635"/><rect x="31" y="11" width="1" height="1" fill="#a6d43a"/><rect x="0" y="12" width="1" height="1" fill="#bad833"/><rect x="1" y="12" width="1" height="1" fill="#82c74e"/><rect x="2" y="12" width="1" height="1" fill="#c1da2f"/><rect x="3" y="12" width="1" height="1" fill="#96cd44"/><rect x="4" y="12" width="1" height="1" fill="#7dc452"/><rect x="5" y="12" width="1" height="1" fill="#b0d339"/><rect x="6" y="12" width="1" height="1" fill="#bfd432"/><rect x="7" y="12" width="1" height="1" fill="#60a269"/><rect x="8" y="12" width="1" height="1" fill="#5a8e70"/><rect x="9" y="12" width="1" height="1" fill="#a3c641"/><rect x="10" y="12" width="1" height="1" fill="#c7da2c"/><rect x="11" y="12" width="1" height="1" fill="#74c056"/><rect x="12" y="12" width="1" height="1" fill="#b4d536"/><rect x="13" y="12" width="1" height="1" fill="#82c84e"/><rect x="14" y="12" width="1" height="1" fill="#c8db2b"/><rect x="15" y="12" width="1" height="1" fill="#c6db2d"/><rect x="16" y="12" width="1" height="1" fill="#b1d636"/><rect x="17" y="12" width="1" height="1" fill="#92cd46"/><rect x="18" y="12" width="1" height="1" fill="#9ed13f"/><rect x="19" y="12" width="1" height="1" fill="#c1da2e"/><rect x="20" y="12" width="1" height="1" fill="#c2da2e"/><rect x="21" y="12" width="1" height="1" fill="#d4df26"/><rect x="22" y="12" width="1" height="1" fill="#c7db2c"/><rect x="23" y="12" width="1" height="1" fill="#b5d734"/><rect x="24" y="12" width="1" height="1" fill="#9acf43"/><rect x="25" y="12" width="1" height="1" fill="#abd43a"/><rect x="26" y="12" width="1" height="1" fill="#97ce44"/><rect x="27" y="12" width="1" height="1" fill="#a9d23c"/><rect x="28" y="12" width="1" height="1" fill="#97d042"/><rect x="29" y="12" width="1" height="1" fill="#9fd23e"/><rect x="30" y="12" width="1" height="1" fill="#98d042"/><rect x="31" y="12" width="1" height="1" fill="#acd538"/><rect x="0" y="13" width="1" height="1" fill="#c1d930"/><rect x="1" y="13" width="1" height="1" fill="#77c155"/><rect x="2" y="13" width="1" height="1" fill="#c5da2e"/><rect x="3" y="13" width="1" height="1" fill="#cadc2b"/><rect x="4" y="13" width="1" height="1" fill="#a6d23c"/><rect x="5" y="13" width="1" height="1" fill="#cddd2a"/><rect x="6" y="13" width="1" height="1" fill="#bed930"/><rect x="7" y="13" width="1" height="1" fill="#a1cd3f"/><rect x="8" y="13" width="1" height="1" fill="#b7cc37"/><rect x="9" y="13" width="1" height="1" fill="#d3df27"/><rect x="10" y="13" width="1" height="1" fill="#c1da2f"/><rect x="11" y="13" width="1" height="1" fill="#a4d23c"/><rect x="12" y="13" width="1" height="1" fill="#a6d33a"/><rect x="13" y="13" width="1" height="1" fill="#82c84d"/><rect x="14" y="13" width="1" height="1" fill="#93cd45"/><rect x="15" y="13" width="1" height="1" fill="#a6d33c"/><rect x="16" y="13" width="1" height="1" fill="#bdd930"/><rect x="17" y="13" width="1" height="1" fill="#c2da2f"/><rect x="18" y="13" width="1" height="1" fill="#b4d635"/><rect x="19" y="13" width="1" height="1" fill="#bdd931"/><rect x="20" y="13" width="1" height="1" fill="#c4db2d"/><rect x="21" y="13" width="1" height="1" fill="#cadc2b"/><rect x="22" y="13" width="1" height="1" fill="#9ccf42"/><rect x="23" y="13" width="1" height="1" fill="#c2da2f"/><rect x="24" y="13" width="1" height="1" fill="#c3da2e"/><rect x="25" y="13" width="1" height="1" fill="#aad43a"/><rect x="26" y="13" width="1" height="1" fill="#9ece41"/><rect x="27" y="13" width="1" height="1" fill="#85c54e"/><rect x="28" y="13" width="1" height="1" fill="#99cf41"/><rect x="29" y="13" width="1" height="1" fill="#acd538"/><rect x="30" y="13" width="1" height="1" fill="#afd637"/><rect x="31" y="13" width="1" height="1" fill="#c5db2d"/><rect x="0" y="14" width="1" height="1" fill="#c5db2d"/><rect x="1" y="14" width="1" height="1" fill="#9cd040"/><rect x="2" y="14" width="1" height="1" fill="#b5d734"/><rect x="3" y="14" width="1" height="1" fill="#cbdd2a"/><rect x="4" y="14" width="1" height="1" fill="#b1d536"/><rect x="5" y="14" width="1" height="1" fill="#cfde28"/><rect x="6" y="14" width="1" height="1" fill="#b7d832"/><rect x="7" y="14" width="1" height="1" fill="#b2d635"/><rect x="8" y="14" width="1" height="1" fill="#a9d43a"/><rect x="9" y="14" width="1" height="1" fill="#b2d637"/><rect x="10" y="14" width="1" height="1" fill="#9dcf42"/><rect x="11" y="14" width="1" height="1" fill="#c4da2e"/><rect x="12" y="14" width="1" height="1" fill="#bcd930"/><rect x="13" y="14" width="1" height="1" fill="#add339"/><rect x="14" y="14" width="1" height="1" fill="#87c64d"/><rect x="15" y="14" width="1" height="1" fill="#c0d830"/><rect x="16" y="14" width="1" height="1" fill="#dde121"/><rect x="17" y="14" width="1" height="1" fill="#c5da2d"/><rect x="18" y="14" width="1" height="1" fill="#8ccb4a"/><rect x="19" y="14" width="1" height="1" fill="#84c94d"/><rect x="20" y="14" width="1" height="1" fill="#b7d734"/><rect x="21" y="14" width="1" height="1" fill="#d2de27"/><rect x="22" y="14" width="1" height="1" fill="#b7d734"/><rect x="23" y="14" width="1" height="1" fill="#c5db2d"/><rect x="24" y="14" width="1" height="1" fill="#c6dc2c"/><rect x="25" y="14" width="1" height="1" fill="#8cca48"/><rect x="26" y="14" width="1" height="1" fill="#85c54e"/><rect x="27" y="14" width="1" height="1" fill="#acd23b"/><rect x="28" y="14" width="1" height="1" fill="#b8d832"/><rect x="29" y="14" width="1" height="1" fill="#9dd140"/><rect x="30" y="14" width="1" height="1" fill="#c1da2f"/><rect x="31" y="14" width="1" height="1" fill="#c5db2d"/><rect x="0" y="15" width="1" height="1" fill="#acd538"/><rect x="1" y="15" width="1" height="1" fill="#84ca4c"/><rect x="2" y="15" width="1" height="1" fill="#88ca4a"/><rect x="3" y="15" width="1" height="1" fill="#a1d03e"/><rect x="4" y="15" width="1" height="1" fill="#7ac352"/><rect x="5" y="15" width="1" height="1" fill="#b1d536"/><rect x="6" y="15" width="1" height="1" fill="#c8dc2c"/><rect x="7" y="15" width="1" height="1" fill="#c4db2e"/><rect x="8" y="15" width="1" height="1" fill="#b4d734"/><rect x="9" y="15" width="1" height="1" fill="#a4d33d"/><rect x="10" y="15" width="1" height="1" fill="#bcd832"/><rect x="11" y="15" width="1" height="1" fill="#bed931"/><rect x="12" y="15" width="1" height="1" fill="#9dd140"/><rect x="13" y="15" width="1" height="1" fill="#91c349"/><rect x="14" y="15" width="1" height="1" fill="#b9d734"/><rect x="15" y="15" width="1" height="1" fill="#d8e025"/><rect x="16" y="15" width="1" height="1" fill="#c0d830"/><rect x="17" y="15" width="1" height="1" fill="#aed538"/><rect x="18" y="15" width="1" height="1" fill="#b8d734"/><rect x="19" y="15" width="1" height="1" fill="#a4d23c"/><rect x="20" y="15" width="1" height="1" fill="#cddd2a"/><rect x="21" y="15" width="1" height="1" fill="#dbe023"/><rect x="22" y="15" width="1" height="1" fill="#d0de28"/><rect x="23" y="15" width="1" height="1" fill="#c8dc2c"/><rect x="24" y="15" width="1" height="1" fill="#a6d23c"/><rect x="25" y="15" width="1" height="1" fill="#7ac353"/><rect x="26" y="15" width="1" height="1" fill="#acd23b"/><rect x="27" y="15" width="1" height="1" fill="#bed434"/><rect x="28" y="15" width="1" height="1" fill="#c1da2f"/><rect x="29" y="15" width="1" height="1" fill="#9dd140"/><rect x="30" y="15" width="1" height="1" fill="#c4db2e"/><rect x="31" y="15" width="1" height="1" fill="#bfda2f"/><rect x="0" y="16" width="1" height="1" fill="#b1d636"/><rect x="1" y="16" width="1" height="1" fill="#7dc750"/><rect x="2" y="16" width="1" height="1" fill="#97ce43"/><rect x="3" y="16" width="1" height="1" fill="#afd636"/><rect x="4" y="16" width="1" height="1" fill="#9acf40"/><rect x="5" y="16" width="1" height="1" fill="#a9d438"/><rect x="6" y="16" width="1" height="1" fill="#b2d635"/><rect x="7" y="16" width="1" height="1" fill="#aad43a"/><rect x="8" y="16" width="1" height="1" fill="#c1da2f"/><rect x="9" y="16" width="1" height="1" fill="#a8d43a"/><rect x="10" y="16" width="1" height="1" fill="#c0da30"/><rect x="11" y="16" width="1" height="1" fill="#95ce45"/><rect x="12" y="16" width="1" height="1" fill="#92c348"/><rect x="13" y="16" width="1" height="1" fill="#7b9c5e"/><rect x="14" y="16" width="1" height="1" fill="#c4d031"/><rect x="15" y="16" width="1" height="1" fill="#b9d734"/><rect x="16" y="16" width="1" height="1" fill="#72bb59"/><rect x="17" y="16" width="1" height="1" fill="#a7d23b"/><rect x="18" y="16" width="1" height="1" fill="#c0d930"/><rect x="19" y="16" width="1" height="1" fill="#a2d23d"/><rect x="20" y="16" width="1" height="1" fill="#c7dc2d"/><rect x="21" y="16" width="1" height="1" fill="#bdd434"/><rect x="22" y="16" width="1" height="1" fill="#bbd931"/><rect x="23" y="16" width="1" height="1" fill="#c2da2e"/><rect x="24" y="16" width="1" height="1" fill="#b6d833"/><rect x="25" y="16" width="1" height="1" fill="#acd438"/><rect x="26" y="16" width="1" height="1" fill="#a9cf3c"/><rect x="27" y="16" width="1" height="1" fill="#69af62"/><rect x="28" y="16" width="1" height="1" fill="#9ccc41"/><rect x="29" y="16" width="1" height="1" fill="#aad538"/><rect x="30" y="16" width="1" height="1" fill="#c2da2e"/><rect x="31" y="16" width="1" height="1" fill="#c8dc2c"/><rect x="0" y="17" width="1" height="1" fill="#a6d23c"/><rect x="1" y="17" width="1" height="1" fill="#72c456"/><rect x="2" y="17" width="1" height="1" fill="#87ca4c"/><rect x="3" y="17" width="1" height="1" fill="#bad833"/><rect x="4" y="17" width="1" height="1" fill="#bed930"/><rect x="5" y="17" width="1" height="1" fill="#a6d43a"/><rect x="6" y="17" width="1" height="1" fill="#9ccc41"/><rect x="7" y="17" width="1" height="1" fill="#c1da2f"/><rect x="8" y="17" width="1" height="1" fill="#b8d635"/><rect x="9" y="17" width="1" height="1" fill="#a7d43c"/><rect x="10" y="17" width="1" height="1" fill="#bed931"/><rect x="11" y="17" width="1" height="1" fill="#a2d23e"/><rect x="12" y="17" width="1" height="1" fill="#a9d43a"/><rect x="13" y="17" width="1" height="1" fill="#b7cc36"/><rect x="14" y="17" width="1" height="1" fill="#c4db2d"/><rect x="15" y="17" width="1" height="1" fill="#91c948"/><rect x="16" y="17" width="1" height="1" fill="#59aa6a"/><rect x="17" y="17" width="1" height="1" fill="#8ac74a"/><rect x="18" y="17" width="1" height="1" fill="#8acb49"/><rect x="19" y="17" width="1" height="1" fill="#a0d23e"/><rect x="20" y="17" width="1" height="1" fill="#acd03b"/><rect x="21" y="17" width="1" height="1" fill="#69af62"/><rect x="22" y="17" width="1" height="1" fill="#91c948"/><rect x="23" y="17" width="1" height="1" fill="#b7d834"/><rect x="24" y="17" width="1" height="1" fill="#b6d833"/><rect x="25" y="17" width="1" height="1" fill="#b9d832"/><rect x="26" y="17" width="1" height="1" fill="#9ed13f"/><rect x="27" y="17" width="1" height="1" fill="#8bc74a"/><rect x="28" y="17" width="1" height="1" fill="#acd438"/><rect x="29" y="17" width="1" height="1" fill="#ccdd29"/><rect x="30" y="17" width="1" height="1" fill="#c2da2f"/><rect x="31" y="17" width="1" height="1" fill="#b2d536"/><rect x="0" y="18" width="1" height="1" fill="#7cc652"/><rect x="1" y="18" width="1" height="1" fill="#8acc49"/><rect x="2" y="18" width="1" height="1" fill="#add538"/><rect x="3" y="18" width="1" height="1" fill="#b4d635"/><rect x="4" y="18" width="1" height="1" fill="#d1de27"/><rect x="5" y="18" width="1" height="1" fill="#8ec748"/><rect x="6" y="18" width="1" height="1" fill="#56a66c"/><rect x="7" y="18" width="1" height="1" fill="#96c946"/><rect x="8" y="18" width="1" height="1" fill="#78c254"/><rect x="9" y="18" width="1" height="1" fill="#9bce43"/><rect x="10" y="18" width="1" height="1" fill="#a0d13f"/><rect x="11" y="18" width="1" height="1" fill="#84c94d"/><rect x="12" y="18" width="1" height="1" fill="#a3cd40"/><rect x="13" y="18" width="1" height="1" fill="#c5db2c"/><rect x="14" y="18" width="1" height="1" fill="#d2de26"/><rect x="15" y="18" width="1" height="1" fill="#c2da2e"/><rect x="16" y="18" width="1" height="1" fill="#b1d139"/><rect x="17" y="18" width="1" height="1" fill="#9ed13f"/><rect x="18" y="18" width="1" height="1" fill="#a0d23e"/><rect x="19" y="18" width="1" height="1" fill="#beda30"/><rect x="20" y="18" width="1" height="1" fill="#cbdd2b"/><rect x="21" y="18" width="1" height="1" fill="#9fcd40"/><rect x="22" y="18" width="1" height="1" fill="#abd538"/><rect x="23" y="18" width="1" height="1" fill="#acd539"/><rect x="24" y="18" width="1" height="1" fill="#b6d735"/><rect x="25" y="18" width="1" height="1" fill="#bdd932"/><rect x="26" y="18" width="1" height="1" fill="#84c94d"/><rect x="27" y="18" width="1" height="1" fill="#9fd13f"/><rect x="28" y="18" width="1" height="1" fill="#89ca4a"/><rect x="29" y="18" width="1" height="1" fill="#9ed13f"/><rect x="30" y="18" width="1" height="1" fill="#82c74e"/><rect x="31" y="18" width="1" height="1" fill="#5cba62"/><rect x="0" y="19" width="1" height="1" fill="#b6d735"/><rect x="1" y="19" width="1" height="1" fill="#bbd931"/><rect x="2" y="19" width="1" height="1" fill="#b5d635"/><rect x="3" y="19" width="1" height="1" fill="#85c54e"/><rect x="4" y="19" width="1" height="1" fill="#b8d535"/><rect x="5" y="19" width="1" height="1" fill="#71bb5a"/><rect x="6" y="19" width="1" height="1" fill="#3b9d7b"/><rect x="7" y="19" width="1" height="1" fill="#87c64d"/><rect x="8" y="19" width="1" height="1" fill="#6cc05a"/><rect x="9" y="19" width="1" height="1" fill="#7ac254"/><rect x="10" y="19" width="1" height="1" fill="#b5d535"/><rect x="11" y="19" width="1" height="1" fill="#8ac74c"/><rect x="12" y="19" width="1" height="1" fill="#69af62"/><rect x="13" y="19" width="1" height="1" fill="#94ca46"/><rect x="14" y="19" width="1" height="1" fill="#c3da2e"/><rect x="15" y="19" width="1" height="1" fill="#cedd29"/><rect x="16" y="19" width="1" height="1" fill="#c0d830"/><rect x="17" y="19" width="1" height="1" fill="#bbd931"/><rect x="18" y="19" width="1" height="1" fill="#b5d734"/><rect x="19" y="19" width="1" height="1" fill="#aad43a"/><rect x="20" y="19" width="1" height="1" fill="#c7dc2d"/><rect x="21" y="19" width="1" height="1" fill="#c1da2e"/><rect x="22" y="19" width="1" height="1" fill="#c1da2e"/><rect x="23" y="19" width="1" height="1" fill="#bad832"/><rect x="24" y="19" width="1" height="1" fill="#88ca4b"/><rect x="25" y="19" width="1" height="1" fill="#9cd040"/><rect x="26" y="19" width="1" height="1" fill="#84c94d"/><rect x="27" y="19" width="1" height="1" fill="#a7d33a"/><rect x="28" y="19" width="1" height="1" fill="#a7d43a"/><rect x="29" y="19" width="1" height="1" fill="#a9d33a"/><rect x="30" y="19" width="1" height="1" fill="#b2d637"/><rect x="31" y="19" width="1" height="1" fill="#88c94c"/><rect x="0" y="20" width="1" height="1" fill="#d8e024"/><rect x="1" y="20" width="1" height="1" fill="#c1da2e"/><rect x="2" y="20" width="1" height="1" fill="#a7d43a"/><rect x="3" y="20" width="1" height="1" fill="#afd437"/><rect x="4" y="20" width="1" height="1" fill="#d4df26"/><rect x="5" y="20" width="1" height="1" fill="#bcd732"/><rect x="6" y="20" width="1" height="1" fill="#88c54d"/><rect x="7" y="20" width="1" height="1" fill="#c0d930"/><rect x="8" y="20" width="1" height="1" fill="#bbd832"/><rect x="9" y="20" width="1" height="1" fill="#b2d536"/><rect x="10" y="20" width="1" height="1" fill="#c9dc2c"/><rect x="11" y="20" width="1" height="1" fill="#c4db2e"/><rect x="12" y="20" width="1" height="1" fill="#a4cd3f"/><rect x="13" y="20" width="1" height="1" fill="#84c94d"/><rect x="14" y="20" width="1" height="1" fill="#79c652"/><rect x="15" y="20" width="1" height="1" fill="#8ecb48"/><rect x="16" y="20" width="1" height="1" fill="#80c451"/><rect x="17" y="20" width="1" height="1" fill="#bed832"/><rect x="18" y="20" width="1" height="1" fill="#cbdd2b"/><rect x="19" y="20" width="1" height="1" fill="#ccdd2a"/><rect x="20" y="20" width="1" height="1" fill="#d0de28"/><rect x="21" y="20" width="1" height="1" fill="#d7df24"/><rect x="22" y="20" width="1" height="1" fill="#bad931"/><rect x="23" y="20" width="1" height="1" fill="#a2d23c"/><rect x="24" y="20" width="1" height="1" fill="#85c94c"/><rect x="25" y="20" width="1" height="1" fill="#b4d635"/><rect x="26" y="20" width="1" height="1" fill="#b6d735"/><rect x="27" y="20" width="1" height="1" fill="#94ca47"/><rect x="28" y="20" width="1" height="1" fill="#aed438"/><rect x="29" y="20" width="1" height="1" fill="#85c54e"/><rect x="30" y="20" width="1" height="1" fill="#b5d635"/><rect x="31" y="20" width="1" height="1" fill="#c6db2d"/><rect x="0" y="21" width="1" height="1" fill="#d9e024"/><rect x="1" y="21" width="1" height="1" fill="#c3da2f"/><rect x="2" y="21" width="1" height="1" fill="#82c74e"/><rect x="3" y="21" width="1" height="1" fill="#c0da30"/><rect x="4" y="21" width="1" height="1" fill="#d3df27"/><rect x="5" y="21" width="1" height="1" fill="#dee121"/><rect x="6" y="21" width="1" height="1" fill="#b2d437"/><rect x="7" y="21" width="1" height="1" fill="#b6d734"/><rect x="8" y="21" width="1" height="1" fill="#a1d23e"/><rect x="9" y="21" width="1" height="1" fill="#b2d636"/><rect x="10" y="21" width="1" height="1" fill="#a1d23e"/><rect x="11" y="21" width="1" height="1" fill="#c0da2f"/><rect x="12" y="21" width="1" height="1" fill="#c4db2e"/><rect x="13" y="21" width="1" height="1" fill="#bcd832"/><rect x="14" y="21" width="1" height="1" fill="#99d042"/><rect x="15" y="21" width="1" height="1" fill="#c2da2f"/><rect x="16" y="21" width="1" height="1" fill="#c3d92f"/><rect x="17" y="21" width="1" height="1" fill="#cede2a"/><rect x="18" y="21" width="1" height="1" fill="#afd537"/><rect x="19" y="21" width="1" height="1" fill="#cfde28"/><rect x="20" y="21" width="1" height="1" fill="#b1d636"/><rect x="21" y="21" width="1" height="1" fill="#c2da2e"/><rect x="22" y="21" width="1" height="1" fill="#b2d635"/><rect x="23" y="21" width="1" height="1" fill="#9cd140"/><rect x="24" y="21" width="1" height="1" fill="#c0d930"/><rect x="25" y="21" width="1" height="1" fill="#cddd29"/><rect x="26" y="21" width="1" height="1" fill="#9fcb42"/><rect x="27" y="21" width="1" height="1" fill="#6eb05f"/><rect x="28" y="21" width="1" height="1" fill="#aed03a"/><rect x="29" y="21" width="1" height="1" fill="#c2d92f"/><rect x="30" y="21" width="1" height="1" fill="#c1cf33"/><rect x="31" y="21" width="1" height="1" fill="#c8da2c"/><rect x="0" y="22" width="1" height="1" fill="#b6d436"/><rect x="1" y="22" width="1" height="1" fill="#b0d339"/><rect x="2" y="22" width="1" height="1" fill="#75c156"/><rect x="3" y="22" width="1" height="1" fill="#a9d33a"/><rect x="4" y="22" width="1" height="1" fill="#c8dc2b"/><rect x="5" y="22" width="1" height="1" fill="#b9d633"/><rect x="6" y="22" width="1" height="1" fill="#78c254"/><rect x="7" y="22" width="1" height="1" fill="#88ca4a"/><rect x="8" y="22" width="1" height="1" fill="#9ed23e"/><rect x="9" y="22" width="1" height="1" fill="#bfda30"/><rect x="10" y="22" width="1" height="1" fill="#b5d734"/><rect x="11" y="22" width="1" height="1" fill="#c8dc2b"/><rect x="12" y="22" width="1" height="1" fill="#acd539"/><rect x="13" y="22" width="1" height="1" fill="#bad832"/><rect x="14" y="22" width="1" height="1" fill="#b4d734"/><rect x="15" y="22" width="1" height="1" fill="#d4df26"/><rect x="16" y="22" width="1" height="1" fill="#dee121"/><rect x="17" y="22" width="1" height="1" fill="#c1da2f"/><rect x="18" y="22" width="1" height="1" fill="#95ce45"/><rect x="19" y="22" width="1" height="1" fill="#b9d734"/><rect x="20" y="22" width="1" height="1" fill="#88ca4b"/><rect x="21" y="22" width="1" height="1" fill="#8aca4a"/><rect x="22" y="22" width="1" height="1" fill="#bad831"/><rect x="23" y="22" width="1" height="1" fill="#a2d23c"/><rect x="24" y="22" width="1" height="1" fill="#aed438"/><rect x="25" y="22" width="1" height="1" fill="#afd437"/><rect x="26" y="22" width="1" height="1" fill="#77c155"/><rect x="27" y="22" width="1" height="1" fill="#a6cd3e"/><rect x="28" y="22" width="1" height="1" fill="#b9d831"/><rect x="29" y="22" width="1" height="1" fill="#b0cb3a"/><rect x="30" y="22" width="1" height="1" fill="#6c9766"/><rect x="31" y="22" width="1" height="1" fill="#66b161"/><rect x="0" y="23" width="1" height="1" fill="#53b468"/><rect x="1" y="23" width="1" height="1" fill="#71bf58"/><rect x="2" y="23" width="1" height="1" fill="#99cd43"/><rect x="3" y="23" width="1" height="1" fill="#96ce44"/><rect x="4" y="23" width="1" height="1" fill="#bad832"/><rect x="5" y="23" width="1" height="1" fill="#82c74e"/><rect x="6" y="23" width="1" height="1" fill="#82c84e"/><rect x="7" y="23" width="1" height="1" fill="#8acc49"/><rect x="8" y="23" width="1" height="1" fill="#94cf44"/><rect x="9" y="23" width="1" height="1" fill="#b4d734"/><rect x="10" y="23" width="1" height="1" fill="#c9dc2a"/><rect x="11" y="23" width="1" height="1" fill="#c2d930"/><rect x="12" y="23" width="1" height="1" fill="#aed637"/><rect x="13" y="23" width="1" height="1" fill="#aad43a"/><rect x="14" y="23" width="1" height="1" fill="#c3db2e"/><rect x="15" y="23" width="1" height="1" fill="#bdd930"/><rect x="16" y="23" width="1" height="1" fill="#cadc2a"/><rect x="17" y="23" width="1" height="1" fill="#bad931"/><rect x="18" y="23" width="1" height="1" fill="#b6d735"/><rect x="19" y="23" width="1" height="1" fill="#ccdd2a"/><rect x="20" y="23" width="1" height="1" fill="#c0da2f"/><rect x="21" y="23" width="1" height="1" fill="#9fd13e"/><rect x="22" y="23" width="1" height="1" fill="#a9d439"/><rect x="23" y="23" width="1" height="1" fill="#7cc651"/><rect x="24" y="23" width="1" height="1" fill="#72c057"/><rect x="25" y="23" width="1" height="1" fill="#92cb46"/><rect x="26" y="23" width="1" height="1" fill="#81c74e"/><rect x="27" y="23" width="1" height="1" fill="#b2d635"/><rect x="28" y="23" width="1" height="1" fill="#c5db2c"/><rect x="29" y="23" width="1" height="1" fill="#c6db2d"/><rect x="30" y="23" width="1" height="1" fill="#a2c642"/><rect x="31" y="23" width="1" height="1" fill="#53b667"/><rect x="0" y="24" width="1" height="1" fill="#5cb962"/><rect x="1" y="24" width="1" height="1" fill="#a3d03e"/><rect x="2" y="24" width="1" height="1" fill="#b5d635"/><rect x="3" y="24" width="1" height="1" fill="#74c156"/><rect x="4" y="24" width="1" height="1" fill="#98cd43"/><rect x="5" y="24" width="1" height="1" fill="#6bbe5a"/><rect x="6" y="24" width="1" height="1" fill="#aed438"/><rect x="7" y="24" width="1" height="1" fill="#b0d636"/><rect x="8" y="24" width="1" height="1" fill="#aed637"/><rect x="9" y="24" width="1" height="1" fill="#b2d536"/><rect x="10" y="24" width="1" height="1" fill="#a4d23c"/><rect x="11" y="24" width="1" height="1" fill="#7ac353"/><rect x="12" y="24" width="1" height="1" fill="#a6d23c"/><rect x="13" y="24" width="1" height="1" fill="#c6db2d"/><rect x="14" y="24" width="1" height="1" fill="#c3da2e"/><rect x="15" y="24" width="1" height="1" fill="#90cc47"/><rect x="16" y="24" width="1" height="1" fill="#97cf42"/><rect x="17" y="24" width="1" height="1" fill="#aed637"/><rect x="18" y="24" width="1" height="1" fill="#96cf43"/><rect x="19" y="24" width="1" height="1" fill="#9dd140"/><rect x="20" y="24" width="1" height="1" fill="#a0d23e"/><rect x="21" y="24" width="1" height="1" fill="#9ed13f"/><rect x="22" y="24" width="1" height="1" fill="#bad832"/><rect x="23" y="24" width="1" height="1" fill="#c0da30"/><rect x="24" y="24" width="1" height="1" fill="#90ca48"/><rect x="25" y="24" width="1" height="1" fill="#7fc450"/><rect x="26" y="24" width="1" height="1" fill="#b9d633"/><rect x="27" y="24" width="1" height="1" fill="#cadc2a"/><rect x="28" y="24" width="1" height="1" fill="#a4d23d"/><rect x="29" y="24" width="1" height="1" fill="#a5d33c"/><rect x="30" y="24" width="1" height="1" fill="#b9d834"/><rect x="31" y="24" width="1" height="1" fill="#76c355"/><rect x="0" y="25" width="1" height="1" fill="#88c94c"/><rect x="1" y="25" width="1" height="1" fill="#c1da2f"/><rect x="2" y="25" width="1" height="1" fill="#acd538"/><rect x="3" y="25" width="1" height="1" fill="#a3d13d"/><rect x="4" y="25" width="1" height="1" fill="#b8d833"/><rect x="5" y="25" width="1" height="1" fill="#97ce44"/><rect x="6" y="25" width="1" height="1" fill="#bdd930"/><rect x="7" y="25" width="1" height="1" fill="#c5db2c"/><rect x="8" y="25" width="1" height="1" fill="#9bcf42"/><rect x="9" y="25" width="1" height="1" fill="#7ac254"/><rect x="10" y="25" width="1" height="1" fill="#9dd03f"/><rect x="11" y="25" width="1" height="1" fill="#a6d23c"/><rect x="12" y="25" width="1" height="1" fill="#c1da2f"/><rect x="13" y="25" width="1" height="1" fill="#c0da30"/><rect x="14" y="25" width="1" height="1" fill="#a9d43a"/><rect x="15" y="25" width="1" height="1" fill="#acd439"/><rect x="16" y="25" width="1" height="1" fill="#afd637"/><rect x="17" y="25" width="1" height="1" fill="#beda30"/><rect x="18" y="25" width="1" height="1" fill="#9ad042"/><rect x="19" y="25" width="1" height="1" fill="#b4d736"/><rect x="20" y="25" width="1" height="1" fill="#a4d33d"/><rect x="21" y="25" width="1" height="1" fill="#98ce42"/><rect x="22" y="25" width="1" height="1" fill="#a7d43b"/><rect x="23" y="25" width="1" height="1" fill="#a2d13e"/><rect x="24" y="25" width="1" height="1" fill="#7dc451"/><rect x="25" y="25" width="1" height="1" fill="#85c84c"/><rect x="26" y="25" width="1" height="1" fill="#c2da2d"/><rect x="27" y="25" width="1" height="1" fill="#b1d536"/><rect x="28" y="25" width="1" height="1" fill="#bfda2f"/><rect x="29" y="25" width="1" height="1" fill="#c0d930"/><rect x="30" y="25" width="1" height="1" fill="#d0de28"/><rect x="31" y="25" width="1" height="1" fill="#aed439"/><rect x="0" y="26" width="1" height="1" fill="#6ebf59"/><rect x="1" y="26" width="1" height="1" fill="#a5d03e"/><rect x="2" y="26" width="1" height="1" fill="#a9d43a"/><rect x="3" y="26" width="1" height="1" fill="#abd33a"/><rect x="4" y="26" width="1" height="1" fill="#bcd931"/><rect x="5" y="26" width="1" height="1" fill="#beda30"/><rect x="6" y="26" width="1" height="1" fill="#b4d635"/><rect x="7" y="26" width="1" height="1" fill="#c6db2c"/><rect x="8" y="26" width="1" height="1" fill="#c8dc2b"/><rect x="9" y="26" width="1" height="1" fill="#bdd832"/><rect x="10" y="26" width="1" height="1" fill="#b8d832"/><rect x="11" y="26" width="1" height="1" fill="#9dd140"/><rect x="12" y="26" width="1" height="1" fill="#93ce44"/><rect x="13" y="26" width="1" height="1" fill="#9ad041"/><rect x="14" y="26" width="1" height="1" fill="#90ce45"/><rect x="15" y="26" width="1" height="1" fill="#a1d23e"/><rect x="16" y="26" width="1" height="1" fill="#b5d734"/><rect x="17" y="26" width="1" height="1" fill="#bbd931"/><rect x="18" y="26" width="1" height="1" fill="#9ad041"/><rect x="19" y="26" width="1" height="1" fill="#a8cf3d"/><rect x="20" y="26" width="1" height="1" fill="#a6d23d"/><rect x="21" y="26" width="1" height="1" fill="#80c450"/><rect x="22" y="26" width="1" height="1" fill="#a8d23c"/><rect x="23" y="26" width="1" height="1" fill="#acd539"/><rect x="24" y="26" width="1" height="1" fill="#a0d040"/><rect x="25" y="26" width="1" height="1" fill="#97ce44"/><rect x="26" y="26" width="1" height="1" fill="#a4d03e"/><rect x="27" y="26" width="1" height="1" fill="#7cc252"/><rect x="28" y="26" width="1" height="1" fill="#b1d437"/><rect x="29" y="26" width="1" height="1" fill="#95ce44"/><rect x="30" y="26" width="1" height="1" fill="#99d041"/><rect x="31" y="26" width="1" height="1" fill="#7cc651"/><rect x="0" y="27" width="1" height="1" fill="#9ace42"/><rect x="1" y="27" width="1" height="1" fill="#88c64d"/><rect x="2" y="27" width="1" height="1" fill="#a2cf3f"/><rect x="3" y="27" width="1" height="1" fill="#7dc352"/><rect x="4" y="27" width="1" height="1" fill="#bad733"/><rect x="5" y="27" width="1" height="1" fill="#b7d734"/><rect x="6" y="27" width="1" height="1" fill="#8fcc47"/><rect x="7" y="27" width="1" height="1" fill="#b1d636"/><rect x="8" y="27" width="1" height="1" fill="#a5d23c"/><rect x="9" y="27" width="1" height="1" fill="#bfda2f"/><rect x="10" y="27" width="1" height="1" fill="#cbdd2a"/><rect x="11" y="27" width="1" height="1" fill="#c6db2d"/><rect x="12" y="27" width="1" height="1" fill="#a5d33b"/><rect x="13" y="27" width="1" height="1" fill="#a4d23c"/><rect x="14" y="27" width="1" height="1" fill="#8fcc47"/><rect x="15" y="27" width="1" height="1" fill="#add538"/><rect x="16" y="27" width="1" height="1" fill="#c4db2e"/><rect x="17" y="27" width="1" height="1" fill="#cbdd2a"/><rect x="18" y="27" width="1" height="1" fill="#a5ce3e"/><rect x="19" y="27" width="1" height="1" fill="#64ae64"/><rect x="20" y="27" width="1" height="1" fill="#7cc253"/><rect x="21" y="27" width="1" height="1" fill="#92cd45"/><rect x="22" y="27" width="1" height="1" fill="#b1d635"/><rect x="23" y="27" width="1" height="1" fill="#b8d833"/><rect x="24" y="27" width="1" height="1" fill="#a5d33c"/><rect x="25" y="27" width="1" height="1" fill="#a9d23c"/><rect x="26" y="27" width="1" height="1" fill="#7dc352"/><rect x="27" y="27" width="1" height="1" fill="#6dc059"/><rect x="28" y="27" width="1" height="1" fill="#aed537"/><rect x="29" y="27" width="1" height="1" fill="#a4d23c"/><rect x="30" y="27" width="1" height="1" fill="#a2d33c"/><rect x="31" y="27" width="1" height="1" fill="#a4d33c"/><rect x="0" y="28" width="1" height="1" fill="#c5db2d"/><rect x="1" y="28" width="1" height="1" fill="#9ecb43"/><rect x="2" y="28" width="1" height="1" fill="#9ad041"/><rect x="3" y="28" width="1" height="1" fill="#77c454"/><rect x="4" y="28" width="1" height="1" fill="#cadc2b"/><rect x="5" y="28" width="1" height="1" fill="#c6db2c"/><rect x="6" y="28" width="1" height="1" fill="#b4d635"/><rect x="7" y="28" width="1" height="1" fill="#b5d635"/><rect x="8" y="28" width="1" height="1" fill="#7dc451"/><rect x="9" y="28" width="1" height="1" fill="#a1d03e"/><rect x="10" y="28" width="1" height="1" fill="#c4db2d"/><rect x="11" y="28" width="1" height="1" fill="#c4db2d"/><rect x="12" y="28" width="1" height="1" fill="#a0d23e"/><rect x="13" y="28" width="1" height="1" fill="#b0d636"/><rect x="14" y="28" width="1" height="1" fill="#aed538"/><rect x="15" y="28" width="1" height="1" fill="#bbd931"/><rect x="16" y="28" width="1" height="1" fill="#a4d33c"/><rect x="17" y="28" width="1" height="1" fill="#a5ce3e"/><rect x="18" y="28" width="1" height="1" fill="#b5d733"/><rect x="19" y="28" width="1" height="1" fill="#9ecc41"/><rect x="20" y="28" width="1" height="1" fill="#b6d734"/><rect x="21" y="28" width="1" height="1" fill="#b6d833"/><rect x="22" y="28" width="1" height="1" fill="#a9d439"/><rect x="23" y="28" width="1" height="1" fill="#91cd46"/><rect x="24" y="28" width="1" height="1" fill="#9ad042"/><rect x="25" y="28" width="1" height="1" fill="#b8d635"/><rect x="26" y="28" width="1" height="1" fill="#acd23b"/><rect x="27" y="28" width="1" height="1" fill="#a9d23b"/><rect x="28" y="28" width="1" height="1" fill="#bed930"/><rect x="29" y="28" width="1" height="1" fill="#a4d23d"/><rect x="30" y="28" width="1" height="1" fill="#9ad041"/><rect x="31" y="28" width="1" height="1" fill="#b7d834"/><rect x="0" y="29" width="1" height="1" fill="#abd03c"/><rect x="1" y="29" width="1" height="1" fill="#6fb15e"/><rect x="2" y="29" width="1" height="1" fill="#92c947"/><rect x="3" y="29" width="1" height="1" fill="#99d042"/><rect x="4" y="29" width="1" height="1" fill="#d0de28"/><rect x="5" y="29" width="1" height="1" fill="#d5df25"/><rect x="6" y="29" width="1" height="1" fill="#c2da2d"/><rect x="7" y="29" width="1" height="1" fill="#b2d734"/><rect x="8" y="29" width="1" height="1" fill="#a1d03e"/><rect x="9" y="29" width="1" height="1" fill="#8ccb48"/><rect x="10" y="29" width="1" height="1" fill="#a3d23c"/><rect x="11" y="29" width="1" height="1" fill="#93c947"/><rect x="12" y="29" width="1" height="1" fill="#b6d734"/><rect x="13" y="29" width="1" height="1" fill="#c1da2f"/><rect x="14" y="29" width="1" height="1" fill="#97ce44"/><rect x="15" y="29" width="1" height="1" fill="#bad833"/><rect x="16" y="29" width="1" height="1" fill="#a8cf3d"/><rect x="17" y="29" width="1" height="1" fill="#69af61"/><rect x="18" y="29" width="1" height="1" fill="#86c64e"/><rect x="19" y="29" width="1" height="1" fill="#8acb4a"/><rect x="20" y="29" width="1" height="1" fill="#b3cb39"/><rect x="21" y="29" width="1" height="1" fill="#c7dc2c"/><rect x="22" y="29" width="1" height="1" fill="#b3d636"/><rect x="23" y="29" width="1" height="1" fill="#8bcb4a"/><rect x="24" y="29" width="1" height="1" fill="#a6d23d"/><rect x="25" y="29" width="1" height="1" fill="#74c057"/><rect x="26" y="29" width="1" height="1" fill="#4eb06c"/><rect x="27" y="29" width="1" height="1" fill="#6abd5c"/><rect x="28" y="29" width="1" height="1" fill="#98ce43"/><rect x="29" y="29" width="1" height="1" fill="#bed930"/><rect x="30" y="29" width="1" height="1" fill="#a4d13d"/><rect x="31" y="29" width="1" height="1" fill="#aad43a"/><rect x="0" y="30" width="1" height="1" fill="#b5d834"/><rect x="1" y="30" width="1" height="1" fill="#91c947"/><rect x="2" y="30" width="1" height="1" fill="#c5db2d"/><rect x="3" y="30" width="1" height="1" fill="#c9dc2c"/><rect x="4" y="30" width="1" height="1" fill="#dbe023"/><rect x="5" y="30" width="1" height="1" fill="#d9e024"/><rect x="6" y="30" width="1" height="1" fill="#d5df25"/><rect x="7" y="30" width="1" height="1" fill="#c5db2c"/><rect x="8" y="30" width="1" height="1" fill="#c8dc2c"/><rect x="9" y="30" width="1" height="1" fill="#a4d23c"/><rect x="10" y="30" width="1" height="1" fill="#8bc74a"/><rect x="11" y="30" width="1" height="1" fill="#65ae64"/><rect x="12" y="30" width="1" height="1" fill="#b8d336"/><rect x="13" y="30" width="1" height="1" fill="#b0cb3a"/><rect x="14" y="30" width="1" height="1" fill="#96cf42"/><rect x="15" y="30" width="1" height="1" fill="#acd538"/><rect x="16" y="30" width="1" height="1" fill="#cadc2b"/><rect x="17" y="30" width="1" height="1" fill="#afd039"/><rect x="18" y="30" width="1" height="1" fill="#c3db2e"/><rect x="19" y="30" width="1" height="1" fill="#90c249"/><rect x="20" y="30" width="1" height="1" fill="#829e5a"/><rect x="21" y="30" width="1" height="1" fill="#a5c840"/><rect x="22" y="30" width="1" height="1" fill="#9dd140"/><rect x="23" y="30" width="1" height="1" fill="#97cf42"/><rect x="24" y="30" width="1" height="1" fill="#b1d636"/><rect x="25" y="30" width="1" height="1" fill="#92c847"/><rect x="26" y="30" width="1" height="1" fill="#63ac65"/><rect x="27" y="30" width="1" height="1" fill="#9fcb42"/><rect x="28" y="30" width="1" height="1" fill="#acd538"/><rect x="29" y="30" width="1" height="1" fill="#a2d13d"/><rect x="30" y="30" width="1" height="1" fill="#82c54f"/><rect x="31" y="30" width="1" height="1" fill="#b2d537"/><rect x="0" y="31" width="1" height="1" fill="#c0da30"/><rect x="1" y="31" width="1" height="1" fill="#92cd46"/><rect x="2" y="31" width="1" height="1" fill="#b1d636"/><rect x="3" y="31" width="1" height="1" fill="#bbd931"/><rect x="4" y="31" width="1" height="1" fill="#d0de28"/><rect x="5" y="31" width="1" height="1" fill="#cede2a"/><rect x="6" y="31" width="1" height="1" fill="#d8e025"/><rect x="7" y="31" width="1" height="1" fill="#d2de27"/><rect x="8" y="31" width="1" height="1" fill="#c3d92f"/><rect x="9" y="31" width="1" height="1" fill="#bdd932"/><rect x="10" y="31" width="1" height="1" fill="#b2d636"/><rect x="11" y="31" width="1" height="1" fill="#afd039"/><rect x="12" y="31" width="1" height="1" fill="#afca3c"/><rect x="13" y="31" width="1" height="1" fill="#659669"/><rect x="14" y="31" width="1" height="1" fill="#77bb56"/><rect x="15" y="31" width="1" height="1" fill="#9cd040"/><rect x="16" y="31" width="1" height="1" fill="#cedd29"/><rect x="17" y="31" width="1" height="1" fill="#c8dc2b"/><rect x="18" y="31" width="1" height="1" fill="#cbdc2a"/><rect x="19" y="31" width="1" height="1" fill="#aad43a"/><rect x="20" y="31" width="1" height="1" fill="#a5c840"/><rect x="21" y="31" width="1" height="1" fill="#89ca4a"/><rect x="22" y="31" width="1" height="1" fill="#88cb4a"/><rect x="23" y="31" width="1" height="1" fill="#8ccc48"/><rect x="24" y="31" width="1" height="1" fill="#84c94d"/><rect x="25" y="31" width="1" height="1" fill="#99d042"/><rect x="26" y="31" width="1" height="1" fill="#a4ce3e"/><rect x="27" y="31" width="1" height="1" fill="#b2d735"/><rect x="28" y="31" width="1" height="1" fill="#c5db2d"/><rect x="29" y="31" width="1" height="1" fill="#bed930"/><rect x="30" y="31" width="1" height="1" fill="#c2d92f"/><rect x="31" y="31" width="1" height="1" fill="#c8db2d"/></pattern><linearGradient id="vir" x1="0" y1="1" x2="0" y2="0"><stop offset="0" stop-color="#440154"/><stop offset="0.13" stop-color="#472d7b"/><stop offset="0.25" stop-color="#3b528b"/><stop offset="0.38" stop-color="#2c728e"/><stop offset="0.5" stop-color="#21918c"/><stop offset="0.63" stop-color="#28ae80"/><stop offset="0.75" stop-color="#5ec962"/><stop offset="0.88" stop-color="#addc30"/><stop offset="1" stop-color="#fde725"/></linearGradient><clipPath id="cplot"><rect x="537.6" y="11.2" width="112.6" height="163"/></clipPath></defs>
<text x="505.3" y="13.9" font-size="16.5" fill="#2a2a2a" text-anchor="start">c</text>
<defs><clipPath id="cvn"><path d="M563.2 9C563.18 10.83 563.12 16.83 563.1 20C563.08 23.17 563 25.5 563.1 28C563.2 30.5 563.17 33 563.7 35C564.23 37 565.23 38.33 566.3 40C567.37 41.67 569.15 43.12 570.1 45C571.05 46.88 571.9 49.3 572 51.3C572.1 53.3 571.58 54.92 570.7 57C569.82 59.08 567.7 61.63 566.7 63.8C565.7 65.97 564.87 67.97 564.7 70C564.53 72.03 565.37 73.83 565.7 76C566.03 78.17 566.48 80.25 566.7 83C566.92 85.75 567.13 90.08 567 92.5C566.87 94.92 566.47 95.83 565.9 97.5C565.33 99.17 564.33 100.42 563.6 102.5C562.87 104.58 562 107.08 561.5 110C561 112.92 560.8 115 560.6 120C560.4 125 560.3 134.67 560.3 140C560.3 145.33 560.27 149.08 560.6 152C560.93 154.92 561.62 155.75 562.3 157.5C562.98 159.25 564.13 160.83 564.7 162.5C565.27 164.17 565.93 165.92 565.7 167.5C565.47 169.08 564.27 170.88 563.3 172C562.33 173.12 560.47 173.83 559.9 174.2L558.3 174.2C557.73 173.83 555.87 173.12 554.9 172C553.93 170.88 552.73 169.08 552.5 167.5C552.27 165.92 552.93 164.17 553.5 162.5C554.07 160.83 555.22 159.25 555.9 157.5C556.58 155.75 557.27 154.92 557.6 152C557.93 149.08 557.9 145.33 557.9 140C557.9 134.67 557.8 125 557.6 120C557.4 115 557.2 112.92 556.7 110C556.2 107.08 555.33 104.58 554.6 102.5C553.87 100.42 552.87 99.17 552.3 97.5C551.73 95.83 551.33 94.92 551.2 92.5C551.07 90.08 551.28 85.75 551.5 83C551.72 80.25 552.17 78.17 552.5 76C552.83 73.83 553.67 72.03 553.5 70C553.33 67.97 552.5 65.97 551.5 63.8C550.5 61.63 548.38 59.08 547.5 57C546.62 54.92 546.1 53.3 546.2 51.3C546.3 49.3 547.15 46.88 548.1 45C549.05 43.12 550.83 41.67 551.9 40C552.97 38.33 553.97 37 554.5 35C555.03 33 555 30.5 555.1 28C555.2 25.5 555.12 23.17 555.1 20C555.08 16.83 555.02 10.83 555 9Z"/></clipPath><linearGradient id="gny" gradientUnits="userSpaceOnUse" x1="0" y1="11" x2="0" y2="174"><stop offset="0" stop-color="#f2ea1a" stop-opacity="0"/><stop offset="0.3" stop-color="#f2ea1a" stop-opacity="0"/><stop offset="0.42" stop-color="#f2ea1a" stop-opacity="0.15"/><stop offset="0.55" stop-color="#f2ea1a" stop-opacity="0.1"/><stop offset="0.79" stop-color="#f2ea1a" stop-opacity="0"/><stop offset="0.9" stop-color="#f2ea1a" stop-opacity="0.45"/><stop offset="1" stop-color="#f2ea1a" stop-opacity="0.45"/></linearGradient><linearGradient id="gnt" gradientUnits="userSpaceOnUse" x1="0" y1="11" x2="0" y2="174"><stop offset="0" stop-color="#2e9f86" stop-opacity="0.12"/><stop offset="0.3" stop-color="#2e9f86" stop-opacity="0.1"/><stop offset="0.37" stop-color="#2e9f86" stop-opacity="0.05"/><stop offset="0.45" stop-color="#2e9f86" stop-opacity="0"/><stop offset="1" stop-color="#2e9f86" stop-opacity="0"/></linearGradient><clipPath id="cvl"><path d="M597.8 9C598.17 9.83 599.48 12.58 600 14C600.52 15.42 600.87 16.08 600.9 17.5C600.93 18.92 600.7 20.83 600.2 22.5C599.7 24.17 598.22 25.83 597.9 27.5C597.58 29.17 598.05 30 598.3 32.5C598.55 35 598.82 39.58 599.4 42.5C599.98 45.42 600.73 47.92 601.8 50C602.87 52.08 604.57 53.42 605.8 55C607.03 56.58 608.5 58.2 609.2 59.5C609.9 60.8 610.23 61.63 610 62.8C609.77 63.97 608.83 65.22 607.8 66.5C606.77 67.78 604.9 69.08 603.8 70.5C602.7 71.92 601.85 73.42 601.2 75C600.55 76.58 600.03 77.5 599.9 80C599.77 82.5 600.08 87.08 600.4 90C600.72 92.92 601.48 95.42 601.8 97.5C602.12 99.58 602.62 100.83 602.3 102.5C601.98 104.17 600.82 105.83 599.9 107.5C598.98 109.17 597.57 110.83 596.8 112.5C596.03 114.17 595.6 114.58 595.3 117.5C595 120.42 595.07 126.25 595 130C594.93 133.75 595.03 137.7 594.9 140C594.77 142.3 594.32 143.17 594.2 143.8L593.4 143.8C593.28 143.17 592.83 142.3 592.7 140C592.57 137.7 592.67 133.75 592.6 130C592.53 126.25 592.6 120.42 592.3 117.5C592 114.58 591.57 114.17 590.8 112.5C590.03 110.83 588.62 109.17 587.7 107.5C586.78 105.83 585.62 104.17 585.3 102.5C584.98 100.83 585.48 99.58 585.8 97.5C586.12 95.42 586.88 92.92 587.2 90C587.52 87.08 587.83 82.5 587.7 80C587.57 77.5 587.05 76.58 586.4 75C585.75 73.42 584.9 71.92 583.8 70.5C582.7 69.08 580.83 67.78 579.8 66.5C578.77 65.22 577.83 63.97 577.6 62.8C577.37 61.63 577.7 60.8 578.4 59.5C579.1 58.2 580.57 56.58 581.8 55C583.03 53.42 584.73 52.08 585.8 50C586.87 47.92 587.62 45.42 588.2 42.5C588.78 39.58 589.05 35 589.3 32.5C589.55 30 590.02 29.17 589.7 27.5C589.38 25.83 587.9 24.17 587.4 22.5C586.9 20.83 586.67 18.92 586.7 17.5C586.73 16.08 587.08 15.42 587.6 14C588.12 12.58 589.43 9.83 589.8 9Z"/></clipPath><linearGradient id="gly" gradientUnits="userSpaceOnUse" x1="0" y1="11" x2="0" y2="174"><stop offset="0" stop-color="#f2ea1a" stop-opacity="0"/><stop offset="0.12" stop-color="#f2ea1a" stop-opacity="0"/><stop offset="0.24" stop-color="#f2ea1a" stop-opacity="0.1"/><stop offset="0.33" stop-color="#f2ea1a" stop-opacity="0.2"/><stop offset="0.42" stop-color="#f2ea1a" stop-opacity="0.1"/><stop offset="0.5" stop-color="#f2ea1a" stop-opacity="0.5"/><stop offset="0.6" stop-color="#f2ea1a" stop-opacity="0.5"/><stop offset="0.67" stop-color="#f2ea1a" stop-opacity="0.3"/><stop offset="1" stop-color="#f2ea1a" stop-opacity="0.2"/></linearGradient><linearGradient id="glt" gradientUnits="userSpaceOnUse" x1="0" y1="11" x2="0" y2="174"><stop offset="0" stop-color="#2e9f86" stop-opacity="0.1"/><stop offset="0.15" stop-color="#2e9f86" stop-opacity="0.1"/><stop offset="0.21" stop-color="#2e9f86" stop-opacity="0"/><stop offset="1" stop-color="#2e9f86" stop-opacity="0"/></linearGradient><clipPath id="cvg"><path d="M631.3 9C631.47 11.27 632.03 18.27 632.3 22.6C632.57 26.93 632.72 30.82 632.9 35C633.08 39.18 633.22 43.53 633.4 47.7C633.58 51.87 633.7 55.82 634 60C634.3 64.18 634.72 68.57 635.2 72.8C635.68 77.03 636.5 81.63 636.9 85.4C637.3 89.17 637.57 92.53 637.6 95.4C637.63 98.27 637.53 99.33 637.1 102.6C636.67 105.87 635.62 110.82 635 115C634.38 119.18 633.92 123.53 633.4 127.7C632.88 131.87 632.38 136.28 631.9 140C631.42 143.72 630.9 147.03 630.5 150C630.1 152.97 629.67 156.5 629.5 157.8L628.3 157.8C628.13 156.5 627.7 152.97 627.3 150C626.9 147.03 626.38 143.72 625.9 140C625.42 136.28 624.92 131.87 624.4 127.7C623.88 123.53 623.42 119.18 622.8 115C622.18 110.82 621.13 105.87 620.7 102.6C620.27 99.33 620.17 98.27 620.2 95.4C620.23 92.53 620.5 89.17 620.9 85.4C621.3 81.63 622.12 77.03 622.6 72.8C623.08 68.57 623.5 64.18 623.8 60C624.1 55.82 624.22 51.87 624.4 47.7C624.58 43.53 624.72 39.18 624.9 35C625.08 30.82 625.23 26.93 625.5 22.6C625.77 18.27 626.33 11.27 626.5 9Z"/></clipPath><linearGradient id="ggy" gradientUnits="userSpaceOnUse" x1="0" y1="11" x2="0" y2="174"><stop offset="0" stop-color="#f2ea1a" stop-opacity="0"/><stop offset="0.18" stop-color="#f2ea1a" stop-opacity="0"/><stop offset="0.36" stop-color="#f2ea1a" stop-opacity="0.1"/><stop offset="0.55" stop-color="#f2ea1a" stop-opacity="0.25"/><stop offset="0.73" stop-color="#f2ea1a" stop-opacity="0.3"/><stop offset="1" stop-color="#f2ea1a" stop-opacity="0.3"/></linearGradient><linearGradient id="ggt" gradientUnits="userSpaceOnUse" x1="0" y1="11" x2="0" y2="174"><stop offset="0" stop-color="#2e9f86" stop-opacity="0.12"/><stop offset="0.24" stop-color="#2e9f86" stop-opacity="0.1"/><stop offset="0.42" stop-color="#2e9f86" stop-opacity="0.04"/><stop offset="0.55" stop-color="#2e9f86" stop-opacity="0"/><stop offset="1" stop-color="#2e9f86" stop-opacity="0"/></linearGradient></defs>
<g clip-path="url(#cplot)">
<path d="M563.2 9C563.18 10.83 563.12 16.83 563.1 20C563.08 23.17 563 25.5 563.1 28C563.2 30.5 563.17 33 563.7 35C564.23 37 565.23 38.33 566.3 40C567.37 41.67 569.15 43.12 570.1 45C571.05 46.88 571.9 49.3 572 51.3C572.1 53.3 571.58 54.92 570.7 57C569.82 59.08 567.7 61.63 566.7 63.8C565.7 65.97 564.87 67.97 564.7 70C564.53 72.03 565.37 73.83 565.7 76C566.03 78.17 566.48 80.25 566.7 83C566.92 85.75 567.13 90.08 567 92.5C566.87 94.92 566.47 95.83 565.9 97.5C565.33 99.17 564.33 100.42 563.6 102.5C562.87 104.58 562 107.08 561.5 110C561 112.92 560.8 115 560.6 120C560.4 125 560.3 134.67 560.3 140C560.3 145.33 560.27 149.08 560.6 152C560.93 154.92 561.62 155.75 562.3 157.5C562.98 159.25 564.13 160.83 564.7 162.5C565.27 164.17 565.93 165.92 565.7 167.5C565.47 169.08 564.27 170.88 563.3 172C562.33 173.12 560.47 173.83 559.9 174.2L558.3 174.2C557.73 173.83 555.87 173.12 554.9 172C553.93 170.88 552.73 169.08 552.5 167.5C552.27 165.92 552.93 164.17 553.5 162.5C554.07 160.83 555.22 159.25 555.9 157.5C556.58 155.75 557.27 154.92 557.6 152C557.93 149.08 557.9 145.33 557.9 140C557.9 134.67 557.8 125 557.6 120C557.4 115 557.2 112.92 556.7 110C556.2 107.08 555.33 104.58 554.6 102.5C553.87 100.42 552.87 99.17 552.3 97.5C551.73 95.83 551.33 94.92 551.2 92.5C551.07 90.08 551.28 85.75 551.5 83C551.72 80.25 552.17 78.17 552.5 76C552.83 73.83 553.67 72.03 553.5 70C553.33 67.97 552.5 65.97 551.5 63.8C550.5 61.63 548.38 59.08 547.5 57C546.62 54.92 546.1 53.3 546.2 51.3C546.3 49.3 547.15 46.88 548.1 45C549.05 43.12 550.83 41.67 551.9 40C552.97 38.33 553.97 37 554.5 35C555.03 33 555 30.5 555.1 28C555.2 25.5 555.12 23.17 555.1 20C555.08 16.83 555.02 10.83 555 9Z" fill="url(#vt)"/>
<g clip-path="url(#cvn)"><rect x="539.1" y="11" width="40" height="164" fill="url(#gny)"/><rect x="539.1" y="11" width="40" height="164" fill="url(#gnt)"/></g>
<path d="M597.8 9C598.17 9.83 599.48 12.58 600 14C600.52 15.42 600.87 16.08 600.9 17.5C600.93 18.92 600.7 20.83 600.2 22.5C599.7 24.17 598.22 25.83 597.9 27.5C597.58 29.17 598.05 30 598.3 32.5C598.55 35 598.82 39.58 599.4 42.5C599.98 45.42 600.73 47.92 601.8 50C602.87 52.08 604.57 53.42 605.8 55C607.03 56.58 608.5 58.2 609.2 59.5C609.9 60.8 610.23 61.63 610 62.8C609.77 63.97 608.83 65.22 607.8 66.5C606.77 67.78 604.9 69.08 603.8 70.5C602.7 71.92 601.85 73.42 601.2 75C600.55 76.58 600.03 77.5 599.9 80C599.77 82.5 600.08 87.08 600.4 90C600.72 92.92 601.48 95.42 601.8 97.5C602.12 99.58 602.62 100.83 602.3 102.5C601.98 104.17 600.82 105.83 599.9 107.5C598.98 109.17 597.57 110.83 596.8 112.5C596.03 114.17 595.6 114.58 595.3 117.5C595 120.42 595.07 126.25 595 130C594.93 133.75 595.03 137.7 594.9 140C594.77 142.3 594.32 143.17 594.2 143.8L593.4 143.8C593.28 143.17 592.83 142.3 592.7 140C592.57 137.7 592.67 133.75 592.6 130C592.53 126.25 592.6 120.42 592.3 117.5C592 114.58 591.57 114.17 590.8 112.5C590.03 110.83 588.62 109.17 587.7 107.5C586.78 105.83 585.62 104.17 585.3 102.5C584.98 100.83 585.48 99.58 585.8 97.5C586.12 95.42 586.88 92.92 587.2 90C587.52 87.08 587.83 82.5 587.7 80C587.57 77.5 587.05 76.58 586.4 75C585.75 73.42 584.9 71.92 583.8 70.5C582.7 69.08 580.83 67.78 579.8 66.5C578.77 65.22 577.83 63.97 577.6 62.8C577.37 61.63 577.7 60.8 578.4 59.5C579.1 58.2 580.57 56.58 581.8 55C583.03 53.42 584.73 52.08 585.8 50C586.87 47.92 587.62 45.42 588.2 42.5C588.78 39.58 589.05 35 589.3 32.5C589.55 30 590.02 29.17 589.7 27.5C589.38 25.83 587.9 24.17 587.4 22.5C586.9 20.83 586.67 18.92 586.7 17.5C586.73 16.08 587.08 15.42 587.6 14C588.12 12.58 589.43 9.83 589.8 9Z" fill="url(#vt)"/>
<g clip-path="url(#cvl)"><rect x="573.8" y="11" width="40" height="164" fill="url(#gly)"/><rect x="573.8" y="11" width="40" height="164" fill="url(#glt)"/></g>
<path d="M631.3 9C631.47 11.27 632.03 18.27 632.3 22.6C632.57 26.93 632.72 30.82 632.9 35C633.08 39.18 633.22 43.53 633.4 47.7C633.58 51.87 633.7 55.82 634 60C634.3 64.18 634.72 68.57 635.2 72.8C635.68 77.03 636.5 81.63 636.9 85.4C637.3 89.17 637.57 92.53 637.6 95.4C637.63 98.27 637.53 99.33 637.1 102.6C636.67 105.87 635.62 110.82 635 115C634.38 119.18 633.92 123.53 633.4 127.7C632.88 131.87 632.38 136.28 631.9 140C631.42 143.72 630.9 147.03 630.5 150C630.1 152.97 629.67 156.5 629.5 157.8L628.3 157.8C628.13 156.5 627.7 152.97 627.3 150C626.9 147.03 626.38 143.72 625.9 140C625.42 136.28 624.92 131.87 624.4 127.7C623.88 123.53 623.42 119.18 622.8 115C622.18 110.82 621.13 105.87 620.7 102.6C620.27 99.33 620.17 98.27 620.2 95.4C620.23 92.53 620.5 89.17 620.9 85.4C621.3 81.63 622.12 77.03 622.6 72.8C623.08 68.57 623.5 64.18 623.8 60C624.1 55.82 624.22 51.87 624.4 47.7C624.58 43.53 624.72 39.18 624.9 35C625.08 30.82 625.23 26.93 625.5 22.6C625.77 18.27 626.33 11.27 626.5 9Z" fill="url(#vt)"/>
<g clip-path="url(#cvg)"><rect x="608.9" y="11" width="40" height="164" fill="url(#ggy)"/><rect x="608.9" y="11" width="40" height="164" fill="url(#ggt)"/></g>
<rect x="628.1" y="161.5" width="1.6" height="7.8" fill="url(#vt)" stroke="none" stroke-width="1"/>
<rect x="628.1" y="161.5" width="1.6" height="7.8" fill="#f2ea1a" stroke="none" stroke-width="1" opacity="0.3"/>
</g>
<rect x="537.6" y="11.2" width="112.6" height="163" fill="none" stroke="#3a3a3a" stroke-width="0.9"/>
<line x1="536" y1="174.2" x2="537.6" y2="174.2" stroke="#3a3a3a" stroke-width="0.8"/>
<text x="534.9" y="177.5" font-size="9.2" fill="#222" text-anchor="end">0</text>
<line x1="536" y1="141.6" x2="537.6" y2="141.6" stroke="#3a3a3a" stroke-width="0.8"/>
<text x="534.9" y="144.9" font-size="9.2" fill="#222" text-anchor="end">100</text>
<line x1="536" y1="109" x2="537.6" y2="109" stroke="#3a3a3a" stroke-width="0.8"/>
<text x="534.9" y="112.3" font-size="9.2" fill="#222" text-anchor="end">200</text>
<line x1="536" y1="76.4" x2="537.6" y2="76.4" stroke="#3a3a3a" stroke-width="0.8"/>
<text x="534.9" y="79.7" font-size="9.2" fill="#222" text-anchor="end">300</text>
<line x1="536" y1="43.8" x2="537.6" y2="43.8" stroke="#3a3a3a" stroke-width="0.8"/>
<text x="534.9" y="47.1" font-size="9.2" fill="#222" text-anchor="end">400</text>
<line x1="536" y1="11.2" x2="537.6" y2="11.2" stroke="#3a3a3a" stroke-width="0.8"/>
<text x="534.9" y="14.5" font-size="9.2" fill="#222" text-anchor="end">500</text>
<line x1="559.1" y1="174.2" x2="559.1" y2="175.8" stroke="#3a3a3a" stroke-width="0.8"/>
<text x="559.1" y="183.4" font-size="9.6" fill="#222" text-anchor="middle">NICU</text>
<line x1="593.8" y1="174.2" x2="593.8" y2="175.8" stroke="#3a3a3a" stroke-width="0.8"/>
<text x="592.9" y="183.4" font-size="9.6" fill="#222" text-anchor="middle">Local</text>
<line x1="628.9" y1="174.2" x2="628.9" y2="175.8" stroke="#3a3a3a" stroke-width="0.8"/>
<text x="628.9" y="183.4" font-size="9.6" fill="#222" text-anchor="middle">Global</text>
<text x="515.2" y="94.2" font-size="9.8" fill="#222" text-anchor="middle" transform="rotate(-90 515.2 94.2)">SNP Distance</text>
<rect x="661.7" y="75.9" width="8.1" height="37.7" fill="url(#vir)" stroke="none" stroke-width="1"/>
<line x1="661.7" y1="85.1" x2="663.2" y2="85.1" stroke="#fff" stroke-width="0.4"/>
<line x1="668.3" y1="85.1" x2="669.8" y2="85.1" stroke="#fff" stroke-width="0.4"/>
<text x="671" y="87.6" font-size="7" fill="#222" text-anchor="start">97.5</text>
<line x1="661.7" y1="93.5" x2="663.2" y2="93.5" stroke="#fff" stroke-width="0.4"/>
<line x1="668.3" y1="93.5" x2="669.8" y2="93.5" stroke="#fff" stroke-width="0.4"/>
<text x="671" y="96" font-size="7" fill="#222" text-anchor="start">95.0</text>
<line x1="661.7" y1="101.2" x2="663.2" y2="101.2" stroke="#fff" stroke-width="0.4"/>
<line x1="668.3" y1="101.2" x2="669.8" y2="101.2" stroke="#fff" stroke-width="0.4"/>
<text x="671" y="103.7" font-size="7" fill="#222" text-anchor="start">92.5</text>
<line x1="661.7" y1="109.7" x2="663.2" y2="109.7" stroke="#fff" stroke-width="0.4"/>
<line x1="668.3" y1="109.7" x2="669.8" y2="109.7" stroke="#fff" stroke-width="0.4"/>
<text x="671" y="112.2" font-size="7" fill="#222" text-anchor="start">90.0</text>
<text x="658.9" y="95" font-size="7.2" fill="#222" text-anchor="middle" transform="rotate(-90 658.9 95)">% Aligned Bases</text>
<text x="18.3" y="192.3" font-size="16.5" fill="#2a2a2a" text-anchor="start">d</text>
<rect x="22.85" y="239" width="4.25" height="17" fill="#f3aed0" stroke="none" stroke-width="1"/>
<rect x="124.19" y="238.6" width="4.25" height="17.4" fill="#f3aed0" stroke="none" stroke-width="1"/>
<rect x="141.08" y="239" width="4.25" height="17" fill="#f3aed0" stroke="none" stroke-width="1"/>
<rect x="208.64" y="239" width="4.25" height="17" fill="#f3aed0" stroke="none" stroke-width="1"/>
<rect x="225.53" y="239" width="4.25" height="17" fill="#f3aed0" stroke="none" stroke-width="1"/>
<rect x="546.44" y="239" width="4.25" height="17" fill="#f3aed0" stroke="none" stroke-width="1"/>
<rect x="27.1" y="239" width="4.25" height="17" fill="#fde38e" stroke="none" stroke-width="1"/>
<rect x="60.88" y="239" width="4.25" height="17" fill="#fde38e" stroke="none" stroke-width="1"/>
<rect x="77.77" y="238.6" width="4.25" height="17.4" fill="#fde38e" stroke="none" stroke-width="1"/>
<rect x="94.66" y="236.9" width="4.25" height="19.1" fill="#fde38e" stroke="none" stroke-width="1"/>
<rect x="128.44" y="238.6" width="4.25" height="17.4" fill="#fde38e" stroke="none" stroke-width="1"/>
<rect x="145.33" y="239.3" width="4.25" height="16.7" fill="#fde38e" stroke="none" stroke-width="1"/>
<rect x="162.22" y="220.8" width="4.25" height="35.2" fill="#fde38e" stroke="none" stroke-width="1"/>
<rect x="196" y="205.1" width="4.25" height="50.9" fill="#fde38e" stroke="none" stroke-width="1"/>
<rect x="212.89" y="203.5" width="4.25" height="52.5" fill="#fde38e" stroke="none" stroke-width="1"/>
<rect x="229.78" y="239" width="4.25" height="17" fill="#fde38e" stroke="none" stroke-width="1"/>
<rect x="246.67" y="220.8" width="4.25" height="35.2" fill="#fde38e" stroke="none" stroke-width="1"/>
<rect x="263.56" y="239" width="4.25" height="17" fill="#fde38e" stroke="none" stroke-width="1"/>
<rect x="280.45" y="239" width="4.25" height="17" fill="#fde38e" stroke="none" stroke-width="1"/>
<rect x="297.34" y="218.1" width="4.25" height="37.9" fill="#fde38e" stroke="none" stroke-width="1"/>
<rect x="314.23" y="221.7" width="4.25" height="34.3" fill="#fde38e" stroke="none" stroke-width="1"/>
<rect x="348.01" y="238.1" width="4.25" height="17.9" fill="#fde38e" stroke="none" stroke-width="1"/>
<rect x="381.79" y="203.5" width="4.25" height="52.5" fill="#fde38e" stroke="none" stroke-width="1"/>
<rect x="398.68" y="239" width="4.25" height="17" fill="#fde38e" stroke="none" stroke-width="1"/>
<rect x="415.57" y="238.1" width="4.25" height="17.9" fill="#fde38e" stroke="none" stroke-width="1"/>
<rect x="449.35" y="238.6" width="4.25" height="17.4" fill="#fde38e" stroke="none" stroke-width="1"/>
<rect x="466.24" y="222.1" width="4.25" height="33.9" fill="#fde38e" stroke="none" stroke-width="1"/>
<rect x="483.13" y="239" width="4.25" height="17" fill="#fde38e" stroke="none" stroke-width="1"/>
<rect x="516.91" y="238.1" width="4.25" height="17.9" fill="#fde38e" stroke="none" stroke-width="1"/>
<rect x="533.8" y="238.1" width="4.25" height="17.9" fill="#fde38e" stroke="none" stroke-width="1"/>
<rect x="550.69" y="239" width="4.25" height="17" fill="#fde38e" stroke="none" stroke-width="1"/>
<rect x="567.58" y="238.1" width="4.25" height="17.9" fill="#fde38e" stroke="none" stroke-width="1"/>
<polyline points="27.1,223 94.66,220.8 179.11,223.8 196,231 212.89,229.7 229.78,225.3 246.67,224.7 263.56,226.9 280.45,224.7 297.34,222.6 314.23,217.6 331.12,216.4 348.01,219.4 364.9,206.9 381.79,216.4 398.68,218.7 415.57,224.2 432.46,228.7 449.35,211.5 466.24,220.8 483.13,223.3 500.02,223.5 516.91,222.6 533.8,220.8 550.69,215.5 567.58,220.5" fill="none" stroke="#f7cb14" stroke-width="1.1" stroke-linejoin="round"/>
<circle cx="27.1" cy="223" r="1.6" fill="#f7cb14"/>
<circle cx="94.66" cy="220.8" r="1.6" fill="#f7cb14"/>
<circle cx="179.11" cy="223.8" r="1.6" fill="#f7cb14"/>
<circle cx="196" cy="231" r="1.6" fill="#f7cb14"/>
<circle cx="212.89" cy="229.7" r="1.6" fill="#f7cb14"/>
<circle cx="229.78" cy="225.3" r="1.6" fill="#f7cb14"/>
<circle cx="246.67" cy="224.7" r="1.6" fill="#f7cb14"/>
<circle cx="263.56" cy="226.9" r="1.6" fill="#f7cb14"/>
<circle cx="280.45" cy="224.7" r="1.6" fill="#f7cb14"/>
<circle cx="297.34" cy="222.6" r="1.6" fill="#f7cb14"/>
<circle cx="314.23" cy="217.6" r="1.6" fill="#f7cb14"/>
<circle cx="331.12" cy="216.4" r="1.6" fill="#f7cb14"/>
<circle cx="348.01" cy="219.4" r="1.6" fill="#f7cb14"/>
<circle cx="364.9" cy="206.9" r="1.6" fill="#f7cb14"/>
<circle cx="381.79" cy="216.4" r="1.6" fill="#f7cb14"/>
<circle cx="398.68" cy="218.7" r="1.6" fill="#f7cb14"/>
<circle cx="415.57" cy="224.2" r="1.6" fill="#f7cb14"/>
<circle cx="432.46" cy="228.7" r="1.6" fill="#f7cb14"/>
<circle cx="449.35" cy="211.5" r="1.6" fill="#f7cb14"/>
<circle cx="466.24" cy="220.8" r="1.6" fill="#f7cb14"/>
<circle cx="483.13" cy="223.3" r="1.6" fill="#f7cb14"/>
<circle cx="500.02" cy="223.5" r="1.6" fill="#f7cb14"/>
<circle cx="516.91" cy="222.6" r="1.6" fill="#f7cb14"/>
<circle cx="533.8" cy="220.8" r="1.6" fill="#f7cb14"/>
<circle cx="550.69" cy="215.5" r="1.6" fill="#f7cb14"/>
<circle cx="567.58" cy="220.5" r="1.6" fill="#f7cb14"/>
<polyline points="27.1,251.5 43.99,250.2 60.88,244.7 77.77,249.7 94.66,249.7 111.55,246.7 128.44,247 145.33,245.8 162.22,244 179.11,245.2 196,248.8 212.89,251.5 229.78,251.1 246.67,249.7 263.56,250.6 280.45,250.2 297.34,254.1 314.23,252 331.12,250.8 348.01,254.7 364.9,255 381.79,254.1 398.68,252.9 415.57,253.2 432.46,251.1 449.35,250.8 466.24,250 483.13,250.4 500.02,250.2 516.91,246.7 533.8,247 550.69,242.9 567.58,244" fill="none" stroke="#e8609f" stroke-width="1.0" stroke-linejoin="round"/>
<circle cx="27.1" cy="251.5" r="1.45" fill="#e8609f"/>
<circle cx="43.99" cy="250.2" r="1.45" fill="#e8609f"/>
<circle cx="60.88" cy="244.7" r="1.45" fill="#e8609f"/>
<circle cx="77.77" cy="249.7" r="1.45" fill="#e8609f"/>
<circle cx="94.66" cy="249.7" r="1.45" fill="#e8609f"/>
<circle cx="111.55" cy="246.7" r="1.45" fill="#e8609f"/>
<circle cx="128.44" cy="247" r="1.45" fill="#e8609f"/>
<circle cx="145.33" cy="245.8" r="1.45" fill="#e8609f"/>
<circle cx="162.22" cy="244" r="1.45" fill="#e8609f"/>
<circle cx="179.11" cy="245.2" r="1.45" fill="#e8609f"/>
<circle cx="196" cy="248.8" r="1.45" fill="#e8609f"/>
<circle cx="212.89" cy="251.5" r="1.45" fill="#e8609f"/>
<circle cx="229.78" cy="251.1" r="1.45" fill="#e8609f"/>
<circle cx="246.67" cy="249.7" r="1.45" fill="#e8609f"/>
<circle cx="263.56" cy="250.6" r="1.45" fill="#e8609f"/>
<circle cx="280.45" cy="250.2" r="1.45" fill="#e8609f"/>
<circle cx="297.34" cy="254.1" r="1.45" fill="#e8609f"/>
<circle cx="314.23" cy="252" r="1.45" fill="#e8609f"/>
<circle cx="331.12" cy="250.8" r="1.45" fill="#e8609f"/>
<circle cx="348.01" cy="254.7" r="1.45" fill="#e8609f"/>
<circle cx="364.9" cy="255" r="1.45" fill="#e8609f"/>
<circle cx="381.79" cy="254.1" r="1.45" fill="#e8609f"/>
<circle cx="398.68" cy="252.9" r="1.45" fill="#e8609f"/>
<circle cx="415.57" cy="253.2" r="1.45" fill="#e8609f"/>
<circle cx="432.46" cy="251.1" r="1.45" fill="#e8609f"/>
<circle cx="449.35" cy="250.8" r="1.45" fill="#e8609f"/>
<circle cx="466.24" cy="250" r="1.45" fill="#e8609f"/>
<circle cx="483.13" cy="250.4" r="1.45" fill="#e8609f"/>
<circle cx="500.02" cy="250.2" r="1.45" fill="#e8609f"/>
<circle cx="516.91" cy="246.7" r="1.45" fill="#e8609f"/>
<circle cx="533.8" cy="247" r="1.45" fill="#e8609f"/>
<circle cx="550.69" cy="242.9" r="1.45" fill="#e8609f"/>
<circle cx="567.58" cy="244" r="1.45" fill="#e8609f"/>
<rect x="17.4" y="203.5" width="560.2" height="52.5" fill="none" stroke="#333" stroke-width="0.9"/>
<line x1="15.2" y1="256" x2="17.4" y2="256" stroke="#333" stroke-width="0.6"/>
<text x="15.2" y="258.2" font-size="6.3" fill="#666" text-anchor="end">0</text>
<line x1="15.2" y1="242.88" x2="17.4" y2="242.88" stroke="#333" stroke-width="0.6"/>
<text x="15.2" y="245.07" font-size="6.3" fill="#666" text-anchor="end">10</text>
<line x1="15.2" y1="229.75" x2="17.4" y2="229.75" stroke="#333" stroke-width="0.6"/>
<text x="15.2" y="231.95" font-size="6.3" fill="#666" text-anchor="end">20</text>
<line x1="15.2" y1="216.62" x2="17.4" y2="216.62" stroke="#333" stroke-width="0.6"/>
<text x="15.2" y="218.82" font-size="6.3" fill="#666" text-anchor="end">30</text>
<line x1="15.2" y1="203.5" x2="17.4" y2="203.5" stroke="#333" stroke-width="0.6"/>
<text x="15.2" y="205.7" font-size="6.3" fill="#666" text-anchor="end">40</text>
<text x="4.5" y="238.3" font-size="6.6" fill="#333" text-anchor="middle" transform="rotate(-90 4.5 238.3)">% Colonized Patients / Sampled Patients</text>
<line x1="577.6" y1="256" x2="579.8" y2="256" stroke="#333" stroke-width="0.6"/>
<text x="580.9" y="258.2" font-size="6.3" fill="#666" text-anchor="start">0.00</text>
<line x1="577.6" y1="242.88" x2="579.8" y2="242.88" stroke="#333" stroke-width="0.6"/>
<text x="580.9" y="245.07" font-size="6.3" fill="#666" text-anchor="start">0.25</text>
<line x1="577.6" y1="229.75" x2="579.8" y2="229.75" stroke="#333" stroke-width="0.6"/>
<text x="580.9" y="231.95" font-size="6.3" fill="#666" text-anchor="start">0.50</text>
<line x1="577.6" y1="216.62" x2="579.8" y2="216.62" stroke="#333" stroke-width="0.6"/>
<text x="580.9" y="218.82" font-size="6.3" fill="#666" text-anchor="start">0.75</text>
<line x1="577.6" y1="203.5" x2="579.8" y2="203.5" stroke="#333" stroke-width="0.6"/>
<text x="580.9" y="205.7" font-size="6.3" fill="#666" text-anchor="start">1.00</text>
<text x="596.6" y="197.8" font-size="6.6" fill="#111" text-anchor="start" transform="rotate(90 596.6 197.8)">BSIs/1000 Patient Days</text>
<line x1="27.1" y1="256" x2="27.1" y2="258.2" stroke="#333" stroke-width="0.6"/>
<text x="32.3" y="262.1" font-size="8.8" fill="#333" text-anchor="end" transform="rotate(-45 32.3 262.1)">Oct</text>
<line x1="43.99" y1="256" x2="43.99" y2="258.2" stroke="#333" stroke-width="0.6"/>
<text x="49.19" y="262.1" font-size="8.8" fill="#333" text-anchor="end" transform="rotate(-45 49.19 262.1)">Nov</text>
<line x1="60.88" y1="256" x2="60.88" y2="258.2" stroke="#333" stroke-width="0.6"/>
<text x="66.08" y="262.1" font-size="8.8" fill="#333" text-anchor="end" transform="rotate(-45 66.08 262.1)">Dec</text>
<line x1="77.77" y1="256" x2="77.77" y2="258.2" stroke="#333" stroke-width="0.6"/>
<text x="82.97" y="262.1" font-size="8.8" fill="#333" text-anchor="end" transform="rotate(-45 82.97 262.1)">Jan</text>
<line x1="94.66" y1="256" x2="94.66" y2="258.2" stroke="#333" stroke-width="0.6"/>
<text x="99.86" y="262.1" font-size="8.8" fill="#333" text-anchor="end" transform="rotate(-45 99.86 262.1)">Feb</text>
<line x1="111.55" y1="256" x2="111.55" y2="258.2" stroke="#333" stroke-width="0.6"/>
<text x="116.75" y="262.1" font-size="8.8" fill="#333" text-anchor="end" transform="rotate(-45 116.75 262.1)">Mar</text>
<line x1="128.44" y1="256" x2="128.44" y2="258.2" stroke="#333" stroke-width="0.6"/>
<text x="133.64" y="262.1" font-size="8.8" fill="#333" text-anchor="end" transform="rotate(-45 133.64 262.1)">Apr</text>
<line x1="145.33" y1="256" x2="145.33" y2="258.2" stroke="#333" stroke-width="0.6"/>
<text x="150.53" y="262.1" font-size="8.8" fill="#333" text-anchor="end" transform="rotate(-45 150.53 262.1)">May</text>
<line x1="162.22" y1="256" x2="162.22" y2="258.2" stroke="#333" stroke-width="0.6"/>
<text x="167.42" y="262.1" font-size="8.8" fill="#333" text-anchor="end" transform="rotate(-45 167.42 262.1)">Jun</text>
<line x1="179.11" y1="256" x2="179.11" y2="258.2" stroke="#333" stroke-width="0.6"/>
<text x="184.31" y="262.1" font-size="8.8" fill="#333" text-anchor="end" transform="rotate(-45 184.31 262.1)">Jul</text>
<line x1="196" y1="256" x2="196" y2="258.2" stroke="#333" stroke-width="0.6"/>
<text x="201.2" y="262.1" font-size="8.8" fill="#333" text-anchor="end" transform="rotate(-45 201.2 262.1)">Aug</text>
<line x1="212.89" y1="256" x2="212.89" y2="258.2" stroke="#333" stroke-width="0.6"/>
<text x="218.09" y="262.1" font-size="8.8" fill="#333" text-anchor="end" transform="rotate(-45 218.09 262.1)">Sep</text>
<line x1="229.78" y1="256" x2="229.78" y2="258.2" stroke="#333" stroke-width="0.6"/>
<text x="234.98" y="262.1" font-size="8.8" fill="#333" text-anchor="end" transform="rotate(-45 234.98 262.1)">Oct</text>
<line x1="246.67" y1="256" x2="246.67" y2="258.2" stroke="#333" stroke-width="0.6"/>
<text x="251.87" y="262.1" font-size="8.8" fill="#333" text-anchor="end" transform="rotate(-45 251.87 262.1)">Nov</text>
<line x1="263.56" y1="256" x2="263.56" y2="258.2" stroke="#333" stroke-width="0.6"/>
<text x="268.76" y="262.1" font-size="8.8" fill="#333" text-anchor="end" transform="rotate(-45 268.76 262.1)">Dec</text>
<line x1="280.45" y1="256" x2="280.45" y2="258.2" stroke="#333" stroke-width="0.6"/>
<text x="285.65" y="262.1" font-size="8.8" fill="#333" text-anchor="end" transform="rotate(-45 285.65 262.1)">Jan</text>
<line x1="297.34" y1="256" x2="297.34" y2="258.2" stroke="#333" stroke-width="0.6"/>
<text x="302.54" y="262.1" font-size="8.8" fill="#333" text-anchor="end" transform="rotate(-45 302.54 262.1)">Feb</text>
<line x1="314.23" y1="256" x2="314.23" y2="258.2" stroke="#333" stroke-width="0.6"/>
<text x="319.43" y="262.1" font-size="8.8" fill="#333" text-anchor="end" transform="rotate(-45 319.43 262.1)">Mar</text>
<line x1="331.12" y1="256" x2="331.12" y2="258.2" stroke="#333" stroke-width="0.6"/>
<text x="336.32" y="262.1" font-size="8.8" fill="#333" text-anchor="end" transform="rotate(-45 336.32 262.1)">Apr</text>
<line x1="348.01" y1="256" x2="348.01" y2="258.2" stroke="#333" stroke-width="0.6"/>
<text x="353.21" y="262.1" font-size="8.8" fill="#333" text-anchor="end" transform="rotate(-45 353.21 262.1)">May</text>
<line x1="364.9" y1="256" x2="364.9" y2="258.2" stroke="#333" stroke-width="0.6"/>
<text x="370.1" y="262.1" font-size="8.8" fill="#333" text-anchor="end" transform="rotate(-45 370.1 262.1)">Jun</text>
<line x1="381.79" y1="256" x2="381.79" y2="258.2" stroke="#333" stroke-width="0.6"/>
<text x="386.99" y="262.1" font-size="8.8" fill="#333" text-anchor="end" transform="rotate(-45 386.99 262.1)">Jul</text>
<line x1="398.68" y1="256" x2="398.68" y2="258.2" stroke="#333" stroke-width="0.6"/>
<text x="403.88" y="262.1" font-size="8.8" fill="#333" text-anchor="end" transform="rotate(-45 403.88 262.1)">Aug</text>
<line x1="415.57" y1="256" x2="415.57" y2="258.2" stroke="#333" stroke-width="0.6"/>
<text x="420.77" y="262.1" font-size="8.8" fill="#333" text-anchor="end" transform="rotate(-45 420.77 262.1)">Sep</text>
<line x1="432.46" y1="256" x2="432.46" y2="258.2" stroke="#333" stroke-width="0.6"/>
<text x="437.66" y="262.1" font-size="8.8" fill="#333" text-anchor="end" transform="rotate(-45 437.66 262.1)">Oct</text>
<line x1="449.35" y1="256" x2="449.35" y2="258.2" stroke="#333" stroke-width="0.6"/>
<text x="454.55" y="262.1" font-size="8.8" fill="#333" text-anchor="end" transform="rotate(-45 454.55 262.1)">Nov</text>
<line x1="466.24" y1="256" x2="466.24" y2="258.2" stroke="#333" stroke-width="0.6"/>
<text x="471.44" y="262.1" font-size="8.8" fill="#333" text-anchor="end" transform="rotate(-45 471.44 262.1)">Dec</text>
<line x1="483.13" y1="256" x2="483.13" y2="258.2" stroke="#333" stroke-width="0.6"/>
<text x="488.33" y="262.1" font-size="8.8" fill="#333" text-anchor="end" transform="rotate(-45 488.33 262.1)">Jan</text>
<line x1="500.02" y1="256" x2="500.02" y2="258.2" stroke="#333" stroke-width="0.6"/>
<text x="505.22" y="262.1" font-size="8.8" fill="#333" text-anchor="end" transform="rotate(-45 505.22 262.1)">Feb</text>
<line x1="516.91" y1="256" x2="516.91" y2="258.2" stroke="#333" stroke-width="0.6"/>
<text x="522.11" y="262.1" font-size="8.8" fill="#333" text-anchor="end" transform="rotate(-45 522.11 262.1)">Mar</text>
<line x1="533.8" y1="256" x2="533.8" y2="258.2" stroke="#333" stroke-width="0.6"/>
<text x="539" y="262.1" font-size="8.8" fill="#333" text-anchor="end" transform="rotate(-45 539 262.1)">Apr</text>
<line x1="550.69" y1="256" x2="550.69" y2="258.2" stroke="#333" stroke-width="0.6"/>
<text x="555.89" y="262.1" font-size="8.8" fill="#333" text-anchor="end" transform="rotate(-45 555.89 262.1)">May</text>
<line x1="567.58" y1="256" x2="567.58" y2="258.2" stroke="#333" stroke-width="0.6"/>
<text x="572.78" y="262.1" font-size="8.8" fill="#333" text-anchor="end" transform="rotate(-45 572.78 262.1)">Jun</text>
<line x1="22.2" y1="272.8" x2="64.9" y2="272.8" stroke="#555" stroke-width="1.5"/>
<text x="42.8" y="283.5" font-size="10.6" fill="#333" text-anchor="middle">2021</text>
<line x1="72.8" y1="272.8" x2="263.8" y2="272.8" stroke="#555" stroke-width="1.5"/>
<text x="170" y="283.5" font-size="10.6" fill="#333" text-anchor="middle">2022</text>
<line x1="276" y1="272.8" x2="466.8" y2="272.8" stroke="#555" stroke-width="1.5"/>
<text x="373.3" y="283.5" font-size="10.6" fill="#333" text-anchor="middle">2023</text>
<line x1="479.3" y1="272.8" x2="568.8" y2="272.8" stroke="#555" stroke-width="1.5"/>
<text x="525" y="283.5" font-size="10.6" fill="#333" text-anchor="middle">2024</text>
<line x1="604.3" y1="202.8" x2="620.8" y2="202.8" stroke="#e8609f" stroke-width="2"/>
<circle cx="612.4" cy="202.8" r="2.5" fill="#e8609f"/>
<line x1="604.3" y1="220.4" x2="620.8" y2="220.4" stroke="#f7cb14" stroke-width="2"/>
<circle cx="612.4" cy="220.4" r="2.5" fill="#f7cb14"/>
<rect x="607.2" y="233.1" width="10.7" height="10.7" fill="#f3aed0" stroke="none" stroke-width="1"/>
<rect x="607.2" y="250.8" width="10.7" height="10.7" fill="#fde38e" stroke="none" stroke-width="1"/>
<text x="627.3" y="205.1" font-size="6.55" fill="#222" text-anchor="start">MRSA Colonization</text>
<text x="627.3" y="222.7" font-size="6.55" fill="#222" text-anchor="start">MSSA Colonization</text>
<text x="627.3" y="239.8" font-size="6.55" fill="#222" text-anchor="start">MRSA Infection</text>
<text x="627.3" y="257.4" font-size="6.55" fill="#222" text-anchor="start">MSSA Infection</text>
<text x="20.3" y="302.4" font-size="16.5" fill="#2a2a2a" text-anchor="start">e</text>
<line x1="43.8" y1="326.5" x2="69.9" y2="326.5" stroke="#1a1a1a" stroke-width="0.75"/><path d="M74.2 326.5L69.6 328.5L69.6 324.5Z" fill="#1a1a1a"/>
<line x1="98.3" y1="326.5" x2="181.9" y2="326.5" stroke="#1a1a1a" stroke-width="0.75"/><path d="M186.2 326.5L181.6 328.5L181.6 324.5Z" fill="#1a1a1a"/>
<line x1="231.7" y1="326.5" x2="257.8" y2="326.5" stroke="#1a1a1a" stroke-width="0.75"/><path d="M262.1 326.5L257.5 328.5L257.5 324.5Z" fill="#1a1a1a"/>
<line x1="302.3" y1="326.5" x2="327.8" y2="326.5" stroke="#1a1a1a" stroke-width="0.75"/><path d="M332.1 326.5L327.5 328.5L327.5 324.5Z" fill="#1a1a1a"/>
<line x1="356.6" y1="326.5" x2="383" y2="326.5" stroke="#1a1a1a" stroke-width="0.75"/><path d="M387.3 326.5L382.7 328.5L382.7 324.5Z" fill="#1a1a1a"/>
<line x1="426.5" y1="326.5" x2="489.1" y2="326.5" stroke="#1a1a1a" stroke-width="0.75"/><path d="M493.4 326.5L488.8 328.5L488.8 324.5Z" fill="#1a1a1a"/>
<line x1="517.9" y1="326.5" x2="544.1" y2="326.5" stroke="#1a1a1a" stroke-width="0.75"/><path d="M548.4 326.5L543.8 328.5L543.8 324.5Z" fill="#1a1a1a"/>
<line x1="585.9" y1="326.5" x2="653.7" y2="326.5" stroke="#1a1a1a" stroke-width="0.75"/><path d="M658 326.5L653.4 328.5L653.4 324.5Z" fill="#1a1a1a"/>
<line x1="98.3" y1="332.3" x2="117.62" y2="340.26" stroke="#1a1a1a" stroke-width="0.75"/><path d="M121.6 341.9L116.58 342L118.11 338.3Z" fill="#1a1a1a"/>
<line x1="426.5" y1="334.6" x2="444.31" y2="341.79" stroke="#1a1a1a" stroke-width="0.75"/><path d="M448.3 343.4L443.29 343.53L444.78 339.82Z" fill="#1a1a1a"/>
<line x1="585.9" y1="333.8" x2="603.41" y2="340.8" stroke="#1a1a1a" stroke-width="0.75"/><path d="M607.4 342.4L602.39 342.55L603.87 338.83Z" fill="#1a1a1a"/>
<rect x="6.3" y="318.2" width="37.5" height="16.9" fill="#dcebf7" stroke="#6e6e6e" stroke-width="0.75"/>
<text x="25.05" y="325.3" font-size="5.6" fill="#1a1a1a" text-anchor="middle">All Genomes</text>
<text x="25.05" y="332" font-size="5.6" fill="#1a1a1a" text-anchor="middle">n = 1670</text>
<rect x="74.2" y="318.2" width="24.1" height="16.9" fill="#f3d1e1" stroke="#6e6e6e" stroke-width="0.75"/>
<text x="86.25" y="325.3" font-size="5.6" fill="#1a1a1a" text-anchor="middle">Quality</text>
<text x="86.25" y="332" font-size="5.6" fill="#1a1a1a" text-anchor="middle">Check</text>
<rect x="186.2" y="318.2" width="45.5" height="16.9" fill="#dcebf7" stroke="#6e6e6e" stroke-width="0.75"/>
<text x="208.95" y="325.3" font-size="5.6" fill="#1a1a1a" text-anchor="middle">Passed Genomes</text>
<text x="208.95" y="332" font-size="5.6" fill="#1a1a1a" text-anchor="middle">n = 1446</text>
<rect x="121.3" y="341.8" width="50.1" height="16.8" fill="#dcebf7" stroke="#6e6e6e" stroke-width="0.75"/>
<text x="146.35" y="348.85" font-size="5.6" fill="#1a1a1a" text-anchor="middle">Rejected Genomes</text>
<text x="146.35" y="355.55" font-size="5.6" fill="#1a1a1a" text-anchor="middle">n = 224</text>
<rect x="262.1" y="318.2" width="40.2" height="16.9" fill="#f3d1e1" stroke="#6e6e6e" stroke-width="0.75"/>
<text x="282.2" y="325.3" font-size="5.6" fill="#1a1a1a" text-anchor="middle">Clonality</text>
<text x="282.2" y="332" font-size="5.6" fill="#1a1a1a" text-anchor="middle">Determination</text>
<rect x="332.1" y="318.2" width="24.5" height="16.9" fill="#dcebf7" stroke="#6e6e6e" stroke-width="0.75"/>
<text x="344.35" y="325.3" font-size="5.6" fill="#1a1a1a" text-anchor="middle">Strains</text>
<text x="344.35" y="332" font-size="5.6" fill="#1a1a1a" text-anchor="middle">n = 490</text>
<rect x="387.3" y="318.2" width="39.2" height="16.9" fill="#f3d1e1" stroke="#6e6e6e" stroke-width="0.75"/>
<text x="406.9" y="325.3" font-size="5.6" fill="#1a1a1a" text-anchor="middle">≥2 Dates OR</text>
<text x="406.9" y="332" font-size="5.6" fill="#1a1a1a" text-anchor="middle">≥2 Patients?</text>
<rect x="448.2" y="341.8" width="31" height="16.8" fill="#dcebf7" stroke="#6e6e6e" stroke-width="0.75"/>
<text x="463.7" y="348.85" font-size="5.6" fill="#1a1a1a" text-anchor="middle">Singletons</text>
<text x="463.7" y="355.55" font-size="5.6" fill="#1a1a1a" text-anchor="middle">n = 281</text>
<rect x="493.4" y="318.2" width="24.5" height="16.9" fill="#dcebf7" stroke="#6e6e6e" stroke-width="0.75"/>
<text x="505.65" y="325.3" font-size="5.6" fill="#1a1a1a" text-anchor="middle">Clones</text>
<text x="505.65" y="332" font-size="5.6" fill="#1a1a1a" text-anchor="middle">n = 209</text>
<rect x="548.4" y="318.2" width="37.5" height="16.9" fill="#f3d1e1" stroke="#6e6e6e" stroke-width="0.75"/>
<text x="567.15" y="328.65" font-size="5.6" fill="#1a1a1a" text-anchor="middle">≥2 Patients?</text>
<rect x="607.4" y="341.8" width="35.6" height="16.8" fill="#dcebf7" stroke="#6e6e6e" stroke-width="0.75"/>
<text x="625.2" y="348.85" font-size="5.6" fill="#1a1a1a" text-anchor="middle">Not Clusters</text>
<text x="625.2" y="355.55" font-size="5.6" fill="#1a1a1a" text-anchor="middle">n = 140</text>
<rect x="658" y="318.2" width="25.3" height="16.9" fill="#dcebf7" stroke="#6e6e6e" stroke-width="0.75"/>
<text x="670.65" y="325.3" font-size="5.6" fill="#1a1a1a" text-anchor="middle">Clusters</text>
<text x="670.65" y="332" font-size="5.6" fill="#1a1a1a" text-anchor="middle">n = 69</text>
<text x="146.2" y="324.7" font-size="5.6" fill="#1a1a1a" text-anchor="middle">Pass</text>
<text x="109.8" y="333.6" font-size="5.6" fill="#1a1a1a" text-anchor="middle">Fail</text>
<text x="463.2" y="324.7" font-size="5.6" fill="#1a1a1a" text-anchor="middle">Yes</text>
<text x="437.2" y="336.9" font-size="5.6" fill="#1a1a1a" text-anchor="middle">No</text>
<text x="624.7" y="324.7" font-size="5.6" fill="#1a1a1a" text-anchor="middle">Yes</text>
<text x="596.5" y="336.2" font-size="5.6" fill="#1a1a1a" text-anchor="middle">No</text>
</svg>
</body></html>
